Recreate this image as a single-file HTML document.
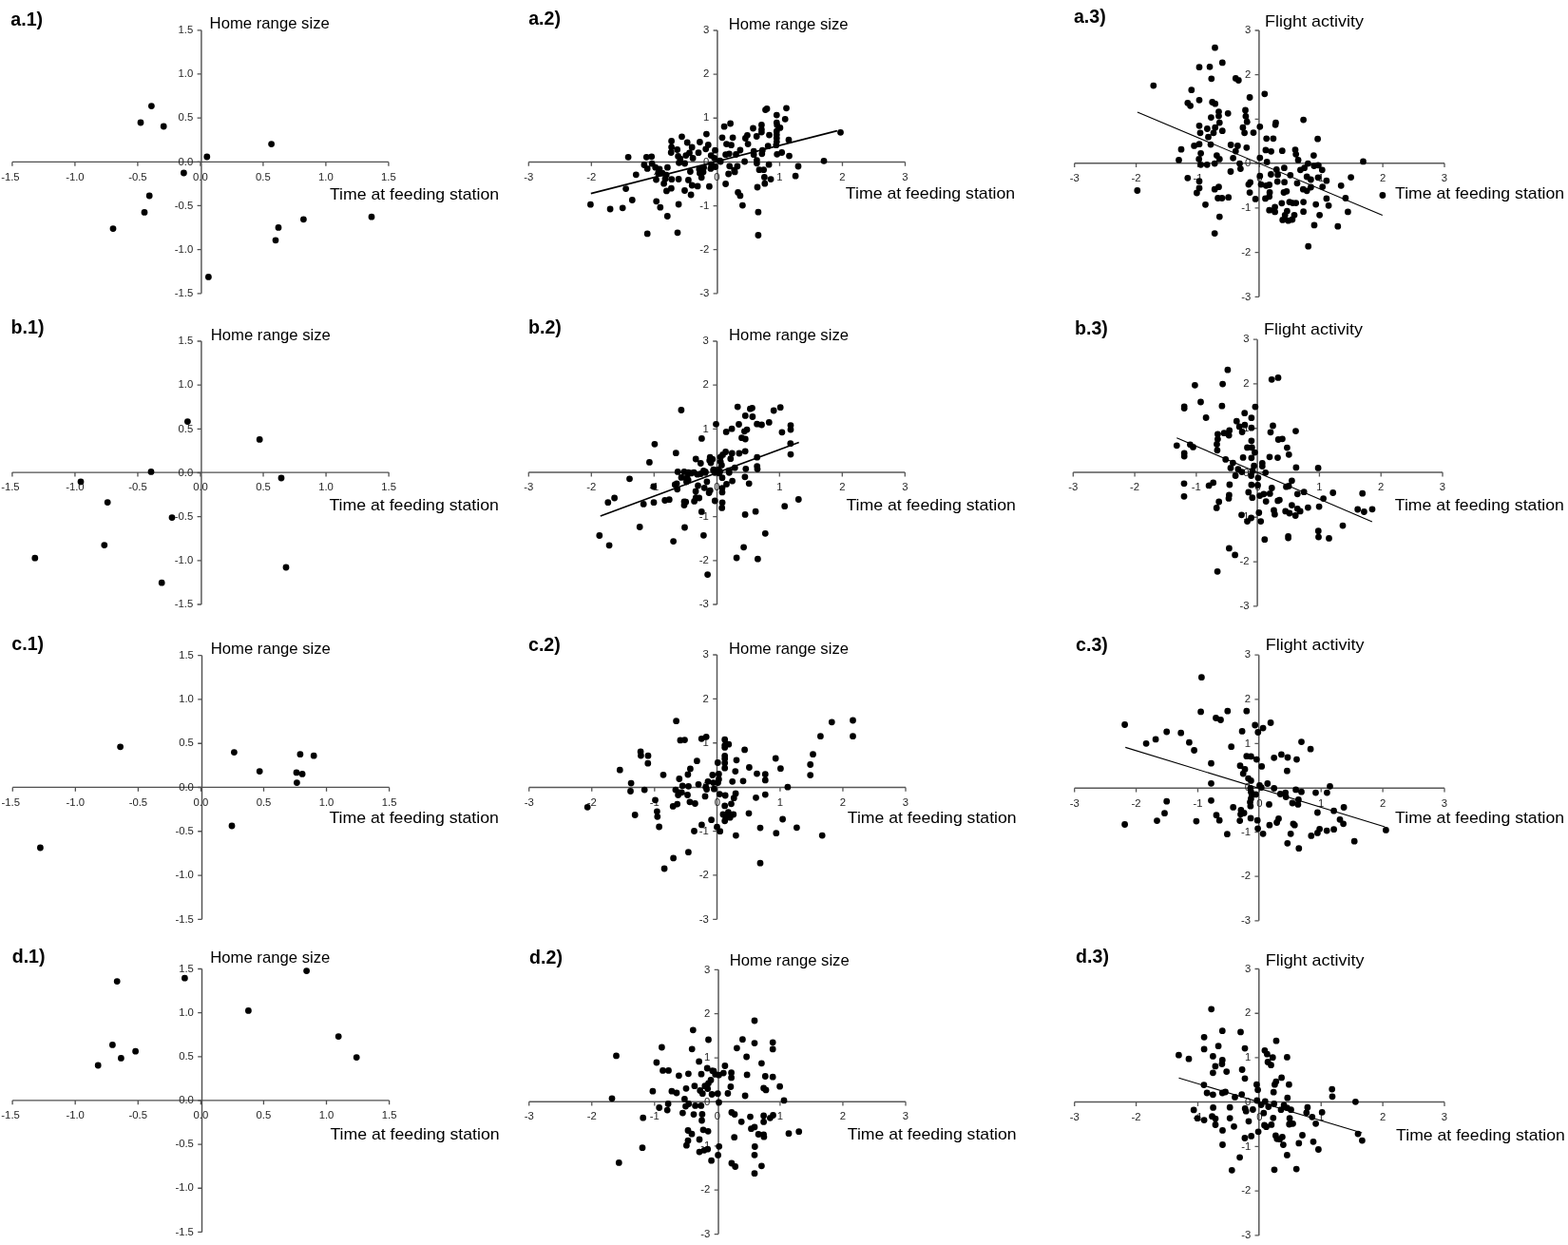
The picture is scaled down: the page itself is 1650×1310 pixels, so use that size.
<!DOCTYPE html>
<html><head><meta charset="utf-8"><title>Figure</title>
<style>
html,body{margin:0;padding:0;background:#fff;}
svg{display:block;}
.tk{font-family:"Liberation Sans",Arial,sans-serif;font-size:11.3px;fill:#262626;}
.tt{font-family:"Liberation Sans",Arial,sans-serif;font-size:16.4px;fill:#000;}
.lab{font-family:"Liberation Sans",Arial,sans-serif;font-size:19.6px;font-weight:bold;fill:#000;}
</style></head><body>
<svg width="1650" height="1310" viewBox="0 0 1650 1310">
<rect width="1650" height="1310" fill="#fff"/>
<path d="M12.9 170.4H408.9M211.9 31.8V308.8" stroke="#505050" stroke-width="1.4" fill="none"/>
<path d="M12.9 170.4v4.3M211.9 308.8h-4.3M78.9 170.4v4.3M211.9 262.63h-4.3M144.9 170.4v4.3M211.9 216.47h-4.3M210.9 170.4v4.3M211.9 170.3h-4.3M276.9 170.4v4.3M211.9 124.13h-4.3M342.9 170.4v4.3M211.9 77.97h-4.3M408.9 170.4v4.3M211.9 31.8h-4.3" stroke="#505050" stroke-width="1.3" fill="none"/>
<text class="tk" x="10.9" y="189.6" text-anchor="middle">-1.5</text>
<text class="tk" x="203.3" y="312" text-anchor="end">-1.5</text>
<text class="tk" x="78.9" y="189.6" text-anchor="middle">-1.0</text>
<text class="tk" x="203.3" y="265.83" text-anchor="end">-1.0</text>
<text class="tk" x="144.9" y="189.6" text-anchor="middle">-0.5</text>
<text class="tk" x="203.3" y="219.67" text-anchor="end">-0.5</text>
<text class="tk" x="210.9" y="189.6" text-anchor="middle">0.0</text>
<text class="tk" x="203.3" y="173.5" text-anchor="end">0.0</text>
<text class="tk" x="276.9" y="189.6" text-anchor="middle">0.5</text>
<text class="tk" x="203.3" y="127.33" text-anchor="end">0.5</text>
<text class="tk" x="342.9" y="189.6" text-anchor="middle">1.0</text>
<text class="tk" x="203.3" y="81.17" text-anchor="end">1.0</text>
<text class="tk" x="408.9" y="189.6" text-anchor="middle">1.5</text>
<text class="tk" x="203.3" y="35" text-anchor="end">1.5</text>
<path d="M156 111.6a3.4 3.4 0 1 0 6.8 0a3.4 3.4 0 1 0 -6.8 0M144.6 129a3.4 3.4 0 1 0 6.8 0a3.4 3.4 0 1 0 -6.8 0M168.8 133a3.4 3.4 0 1 0 6.8 0a3.4 3.4 0 1 0 -6.8 0M282.2 151.6a3.4 3.4 0 1 0 6.8 0a3.4 3.4 0 1 0 -6.8 0M214.4 165a3.4 3.4 0 1 0 6.8 0a3.4 3.4 0 1 0 -6.8 0M190 182a3.4 3.4 0 1 0 6.8 0a3.4 3.4 0 1 0 -6.8 0M153.8 206a3.4 3.4 0 1 0 6.8 0a3.4 3.4 0 1 0 -6.8 0M148.6 223.4a3.4 3.4 0 1 0 6.8 0a3.4 3.4 0 1 0 -6.8 0M115.6 240.6a3.4 3.4 0 1 0 6.8 0a3.4 3.4 0 1 0 -6.8 0M316 230.8a3.4 3.4 0 1 0 6.8 0a3.4 3.4 0 1 0 -6.8 0M387.6 228.2a3.4 3.4 0 1 0 6.8 0a3.4 3.4 0 1 0 -6.8 0M289.6 239.4a3.4 3.4 0 1 0 6.8 0a3.4 3.4 0 1 0 -6.8 0M286.6 252.8a3.4 3.4 0 1 0 6.8 0a3.4 3.4 0 1 0 -6.8 0M216 291.4a3.4 3.4 0 1 0 6.8 0a3.4 3.4 0 1 0 -6.8 0" fill="#000"/>
<text class="lab" x="11.3" y="26.5">a.1)</text>
<text class="tt" x="220.6" y="29.8" textLength="126.2" lengthAdjust="spacingAndGlyphs">Home range size</text>
<text class="tt" x="346.9" y="209.8" textLength="178.2" lengthAdjust="spacingAndGlyphs">Time at feeding station</text>
<path d="M556.3 170.4H952.5M754.9 32V308.8" stroke="#585858" stroke-width="1.5" fill="none"/>
<path d="M556.3 170.4v4.3M754.9 308.8h-4.3M622.33 170.4v4.3M754.9 262.67h-4.3M688.37 170.4v4.3M754.9 216.53h-4.3M754.4 170.4v4.3M754.9 170.4h-4.3M820.43 170.4v4.3M754.9 124.27h-4.3M886.47 170.4v4.3M754.9 78.13h-4.3M952.5 170.4v4.3M754.9 32h-4.3" stroke="#585858" stroke-width="1.3" fill="none"/>
<text class="tk" x="556.3" y="189.6" text-anchor="middle">-3</text>
<text class="tk" x="746.3" y="312" text-anchor="end">-3</text>
<text class="tk" x="622.33" y="189.6" text-anchor="middle">-2</text>
<text class="tk" x="746.3" y="265.87" text-anchor="end">-2</text>
<text class="tk" x="688.37" y="189.6" text-anchor="middle">-1</text>
<text class="tk" x="746.3" y="219.73" text-anchor="end">-1</text>
<text class="tk" x="754.4" y="189.6" text-anchor="middle">0</text>
<text class="tk" x="746.3" y="173.6" text-anchor="end">0</text>
<text class="tk" x="820.43" y="189.6" text-anchor="middle">1</text>
<text class="tk" x="746.3" y="127.47" text-anchor="end">1</text>
<text class="tk" x="886.47" y="189.6" text-anchor="middle">2</text>
<text class="tk" x="746.3" y="81.33" text-anchor="end">2</text>
<text class="tk" x="952.5" y="189.6" text-anchor="middle">3</text>
<text class="tk" x="746.3" y="35.2" text-anchor="end">3</text>
<path d="M621.8 203.6L880.9 137.6" stroke="#000" stroke-width="1.6" fill="none"/>
<path d="M657.7 165.3a3.4 3.4 0 1 0 6.8 0a3.4 3.4 0 1 0 -6.8 0M676.9 165.3a3.4 3.4 0 1 0 6.8 0a3.4 3.4 0 1 0 -6.8 0M682.3 164.8a3.4 3.4 0 1 0 6.8 0a3.4 3.4 0 1 0 -6.8 0M703.2 148.5a3.4 3.4 0 1 0 6.8 0a3.4 3.4 0 1 0 -6.8 0M714.1 143.8a3.4 3.4 0 1 0 6.8 0a3.4 3.4 0 1 0 -6.8 0M740 141.1a3.4 3.4 0 1 0 6.8 0a3.4 3.4 0 1 0 -6.8 0M733 149.5a3.4 3.4 0 1 0 6.8 0a3.4 3.4 0 1 0 -6.8 0M719.8 150a3.4 3.4 0 1 0 6.8 0a3.4 3.4 0 1 0 -6.8 0M724.8 155a3.4 3.4 0 1 0 6.8 0a3.4 3.4 0 1 0 -6.8 0M703.2 154.8a3.4 3.4 0 1 0 6.8 0a3.4 3.4 0 1 0 -6.8 0M709.3 157.5a3.4 3.4 0 1 0 6.8 0a3.4 3.4 0 1 0 -6.8 0M702.8 160.5a3.4 3.4 0 1 0 6.8 0a3.4 3.4 0 1 0 -6.8 0M741.9 152.5a3.4 3.4 0 1 0 6.8 0a3.4 3.4 0 1 0 -6.8 0M739.3 156.8a3.4 3.4 0 1 0 6.8 0a3.4 3.4 0 1 0 -6.8 0M749.1 158.2a3.4 3.4 0 1 0 6.8 0a3.4 3.4 0 1 0 -6.8 0M731.6 160.7a3.4 3.4 0 1 0 6.8 0a3.4 3.4 0 1 0 -6.8 0M722.1 160.9a3.4 3.4 0 1 0 6.8 0a3.4 3.4 0 1 0 -6.8 0M718.4 163.6a3.4 3.4 0 1 0 6.8 0a3.4 3.4 0 1 0 -6.8 0M725.7 166.4a3.4 3.4 0 1 0 6.8 0a3.4 3.4 0 1 0 -6.8 0M710.2 164.5a3.4 3.4 0 1 0 6.8 0a3.4 3.4 0 1 0 -6.8 0M744.8 163.6a3.4 3.4 0 1 0 6.8 0a3.4 3.4 0 1 0 -6.8 0M748.4 166.4a3.4 3.4 0 1 0 6.8 0a3.4 3.4 0 1 0 -6.8 0M674.5 173.5a3.4 3.4 0 1 0 6.8 0a3.4 3.4 0 1 0 -6.8 0M677.8 177.4a3.4 3.4 0 1 0 6.8 0a3.4 3.4 0 1 0 -6.8 0M682.7 172.2a3.4 3.4 0 1 0 6.8 0a3.4 3.4 0 1 0 -6.8 0M686.3 176.2a3.4 3.4 0 1 0 6.8 0a3.4 3.4 0 1 0 -6.8 0M690.6 178a3.4 3.4 0 1 0 6.8 0a3.4 3.4 0 1 0 -6.8 0M689.3 182.2a3.4 3.4 0 1 0 6.8 0a3.4 3.4 0 1 0 -6.8 0M693.6 182.2a3.4 3.4 0 1 0 6.8 0a3.4 3.4 0 1 0 -6.8 0M699 176.2a3.4 3.4 0 1 0 6.8 0a3.4 3.4 0 1 0 -6.8 0M697.8 184.1a3.4 3.4 0 1 0 6.8 0a3.4 3.4 0 1 0 -6.8 0M696.6 188.3a3.4 3.4 0 1 0 6.8 0a3.4 3.4 0 1 0 -6.8 0M733 182.2a3.4 3.4 0 1 0 6.8 0a3.4 3.4 0 1 0 -6.8 0M736.6 181a3.4 3.4 0 1 0 6.8 0a3.4 3.4 0 1 0 -6.8 0M732.4 178a3.4 3.4 0 1 0 6.8 0a3.4 3.4 0 1 0 -6.8 0M737.2 176.2a3.4 3.4 0 1 0 6.8 0a3.4 3.4 0 1 0 -6.8 0M744.5 177.4a3.4 3.4 0 1 0 6.8 0a3.4 3.4 0 1 0 -6.8 0M749.3 175.6a3.4 3.4 0 1 0 6.8 0a3.4 3.4 0 1 0 -6.8 0M745.1 173.2a3.4 3.4 0 1 0 6.8 0a3.4 3.4 0 1 0 -6.8 0M754.8 170.1a3.4 3.4 0 1 0 6.8 0a3.4 3.4 0 1 0 -6.8 0M711.1 171.3a3.4 3.4 0 1 0 6.8 0a3.4 3.4 0 1 0 -6.8 0M717.2 172a3.4 3.4 0 1 0 6.8 0a3.4 3.4 0 1 0 -6.8 0M712.4 167.1a3.4 3.4 0 1 0 6.8 0a3.4 3.4 0 1 0 -6.8 0M665.9 183.8a3.4 3.4 0 1 0 6.8 0a3.4 3.4 0 1 0 -6.8 0M687.1 189.1a3.4 3.4 0 1 0 6.8 0a3.4 3.4 0 1 0 -6.8 0M695.2 193.2a3.4 3.4 0 1 0 6.8 0a3.4 3.4 0 1 0 -6.8 0M703.4 188.6a3.4 3.4 0 1 0 6.8 0a3.4 3.4 0 1 0 -6.8 0M710.7 188.5a3.4 3.4 0 1 0 6.8 0a3.4 3.4 0 1 0 -6.8 0M721 189.4a3.4 3.4 0 1 0 6.8 0a3.4 3.4 0 1 0 -6.8 0M724.8 195a3.4 3.4 0 1 0 6.8 0a3.4 3.4 0 1 0 -6.8 0M730.7 195.9a3.4 3.4 0 1 0 6.8 0a3.4 3.4 0 1 0 -6.8 0M743 196.1a3.4 3.4 0 1 0 6.8 0a3.4 3.4 0 1 0 -6.8 0M734.8 186.8a3.4 3.4 0 1 0 6.8 0a3.4 3.4 0 1 0 -6.8 0M655.2 198.6a3.4 3.4 0 1 0 6.8 0a3.4 3.4 0 1 0 -6.8 0M698 200.9a3.4 3.4 0 1 0 6.8 0a3.4 3.4 0 1 0 -6.8 0M703 198.2a3.4 3.4 0 1 0 6.8 0a3.4 3.4 0 1 0 -6.8 0M717.1 200.5a3.4 3.4 0 1 0 6.8 0a3.4 3.4 0 1 0 -6.8 0M723.7 205a3.4 3.4 0 1 0 6.8 0a3.4 3.4 0 1 0 -6.8 0M661.9 210.5a3.4 3.4 0 1 0 6.8 0a3.4 3.4 0 1 0 -6.8 0M687.3 211.8a3.4 3.4 0 1 0 6.8 0a3.4 3.4 0 1 0 -6.8 0M710.7 215a3.4 3.4 0 1 0 6.8 0a3.4 3.4 0 1 0 -6.8 0M618 215.2a3.4 3.4 0 1 0 6.8 0a3.4 3.4 0 1 0 -6.8 0M638.7 220a3.4 3.4 0 1 0 6.8 0a3.4 3.4 0 1 0 -6.8 0M651.8 218.8a3.4 3.4 0 1 0 6.8 0a3.4 3.4 0 1 0 -6.8 0M691.4 218.2a3.4 3.4 0 1 0 6.8 0a3.4 3.4 0 1 0 -6.8 0M698.9 227.5a3.4 3.4 0 1 0 6.8 0a3.4 3.4 0 1 0 -6.8 0M677.8 245.9a3.4 3.4 0 1 0 6.8 0a3.4 3.4 0 1 0 -6.8 0M709.6 244.8a3.4 3.4 0 1 0 6.8 0a3.4 3.4 0 1 0 -6.8 0M723 180.5a3.4 3.4 0 1 0 6.8 0a3.4 3.4 0 1 0 -6.8 0M802.1 115.6a3.4 3.4 0 1 0 6.8 0a3.4 3.4 0 1 0 -6.8 0M803.6 114.5a3.4 3.4 0 1 0 6.8 0a3.4 3.4 0 1 0 -6.8 0M824.1 113.8a3.4 3.4 0 1 0 6.8 0a3.4 3.4 0 1 0 -6.8 0M813.9 121.1a3.4 3.4 0 1 0 6.8 0a3.4 3.4 0 1 0 -6.8 0M822.8 125.3a3.4 3.4 0 1 0 6.8 0a3.4 3.4 0 1 0 -6.8 0M758.7 133.2a3.4 3.4 0 1 0 6.8 0a3.4 3.4 0 1 0 -6.8 0M765.2 130a3.4 3.4 0 1 0 6.8 0a3.4 3.4 0 1 0 -6.8 0M789.1 135a3.4 3.4 0 1 0 6.8 0a3.4 3.4 0 1 0 -6.8 0M798 131.4a3.4 3.4 0 1 0 6.8 0a3.4 3.4 0 1 0 -6.8 0M798 136.4a3.4 3.4 0 1 0 6.8 0a3.4 3.4 0 1 0 -6.8 0M798 139.1a3.4 3.4 0 1 0 6.8 0a3.4 3.4 0 1 0 -6.8 0M813.9 129.1a3.4 3.4 0 1 0 6.8 0a3.4 3.4 0 1 0 -6.8 0M814.3 131.4a3.4 3.4 0 1 0 6.8 0a3.4 3.4 0 1 0 -6.8 0M817.5 134.4a3.4 3.4 0 1 0 6.8 0a3.4 3.4 0 1 0 -6.8 0M813.9 138.2a3.4 3.4 0 1 0 6.8 0a3.4 3.4 0 1 0 -6.8 0M813.9 141.8a3.4 3.4 0 1 0 6.8 0a3.4 3.4 0 1 0 -6.8 0M813.9 145.5a3.4 3.4 0 1 0 6.8 0a3.4 3.4 0 1 0 -6.8 0M813.9 149.1a3.4 3.4 0 1 0 6.8 0a3.4 3.4 0 1 0 -6.8 0M813.4 152.7a3.4 3.4 0 1 0 6.8 0a3.4 3.4 0 1 0 -6.8 0M756.6 144.8a3.4 3.4 0 1 0 6.8 0a3.4 3.4 0 1 0 -6.8 0M767.7 144.8a3.4 3.4 0 1 0 6.8 0a3.4 3.4 0 1 0 -6.8 0M783 142.3a3.4 3.4 0 1 0 6.8 0a3.4 3.4 0 1 0 -6.8 0M781 145.5a3.4 3.4 0 1 0 6.8 0a3.4 3.4 0 1 0 -6.8 0M792.8 143.5a3.4 3.4 0 1 0 6.8 0a3.4 3.4 0 1 0 -6.8 0M806.1 142.1a3.4 3.4 0 1 0 6.8 0a3.4 3.4 0 1 0 -6.8 0M826.6 147.1a3.4 3.4 0 1 0 6.8 0a3.4 3.4 0 1 0 -6.8 0M881.1 139.3a3.4 3.4 0 1 0 6.8 0a3.4 3.4 0 1 0 -6.8 0M761.1 151.6a3.4 3.4 0 1 0 6.8 0a3.4 3.4 0 1 0 -6.8 0M766.1 152.7a3.4 3.4 0 1 0 6.8 0a3.4 3.4 0 1 0 -6.8 0M783.7 151.6a3.4 3.4 0 1 0 6.8 0a3.4 3.4 0 1 0 -6.8 0M804.8 153.6a3.4 3.4 0 1 0 6.8 0a3.4 3.4 0 1 0 -6.8 0M775.5 158a3.4 3.4 0 1 0 6.8 0a3.4 3.4 0 1 0 -6.8 0M789.8 159.1a3.4 3.4 0 1 0 6.8 0a3.4 3.4 0 1 0 -6.8 0M789.8 162.7a3.4 3.4 0 1 0 6.8 0a3.4 3.4 0 1 0 -6.8 0M798.9 158.2a3.4 3.4 0 1 0 6.8 0a3.4 3.4 0 1 0 -6.8 0M798.4 161.8a3.4 3.4 0 1 0 6.8 0a3.4 3.4 0 1 0 -6.8 0M760.2 162.7a3.4 3.4 0 1 0 6.8 0a3.4 3.4 0 1 0 -6.8 0M763.9 161.8a3.4 3.4 0 1 0 6.8 0a3.4 3.4 0 1 0 -6.8 0M771.1 162.5a3.4 3.4 0 1 0 6.8 0a3.4 3.4 0 1 0 -6.8 0M754.3 169.1a3.4 3.4 0 1 0 6.8 0a3.4 3.4 0 1 0 -6.8 0M814.3 162.3a3.4 3.4 0 1 0 6.8 0a3.4 3.4 0 1 0 -6.8 0M819.3 160.5a3.4 3.4 0 1 0 6.8 0a3.4 3.4 0 1 0 -6.8 0M827.1 164.1a3.4 3.4 0 1 0 6.8 0a3.4 3.4 0 1 0 -6.8 0M780.2 170a3.4 3.4 0 1 0 6.8 0a3.4 3.4 0 1 0 -6.8 0M793 168.6a3.4 3.4 0 1 0 6.8 0a3.4 3.4 0 1 0 -6.8 0M793 171.8a3.4 3.4 0 1 0 6.8 0a3.4 3.4 0 1 0 -6.8 0M863.6 169.3a3.4 3.4 0 1 0 6.8 0a3.4 3.4 0 1 0 -6.8 0M805.7 173.2a3.4 3.4 0 1 0 6.8 0a3.4 3.4 0 1 0 -6.8 0M836.6 175a3.4 3.4 0 1 0 6.8 0a3.4 3.4 0 1 0 -6.8 0M764.3 174.8a3.4 3.4 0 1 0 6.8 0a3.4 3.4 0 1 0 -6.8 0M772.5 175a3.4 3.4 0 1 0 6.8 0a3.4 3.4 0 1 0 -6.8 0M749.3 175.5a3.4 3.4 0 1 0 6.8 0a3.4 3.4 0 1 0 -6.8 0M795.6 178.6a3.4 3.4 0 1 0 6.8 0a3.4 3.4 0 1 0 -6.8 0M800.2 178.6a3.4 3.4 0 1 0 6.8 0a3.4 3.4 0 1 0 -6.8 0M769.3 179a3.4 3.4 0 1 0 6.8 0a3.4 3.4 0 1 0 -6.8 0M763.2 183a3.4 3.4 0 1 0 6.8 0a3.4 3.4 0 1 0 -6.8 0M769.8 180.9a3.4 3.4 0 1 0 6.8 0a3.4 3.4 0 1 0 -6.8 0M801 186.4a3.4 3.4 0 1 0 6.8 0a3.4 3.4 0 1 0 -6.8 0M807.7 188.6a3.4 3.4 0 1 0 6.8 0a3.4 3.4 0 1 0 -6.8 0M801.4 193.2a3.4 3.4 0 1 0 6.8 0a3.4 3.4 0 1 0 -6.8 0M793.6 197a3.4 3.4 0 1 0 6.8 0a3.4 3.4 0 1 0 -6.8 0M833.7 185.2a3.4 3.4 0 1 0 6.8 0a3.4 3.4 0 1 0 -6.8 0M760.2 193.5a3.4 3.4 0 1 0 6.8 0a3.4 3.4 0 1 0 -6.8 0M773.2 202.5a3.4 3.4 0 1 0 6.8 0a3.4 3.4 0 1 0 -6.8 0M775.5 205.9a3.4 3.4 0 1 0 6.8 0a3.4 3.4 0 1 0 -6.8 0M778 216.1a3.4 3.4 0 1 0 6.8 0a3.4 3.4 0 1 0 -6.8 0M794.5 223.2a3.4 3.4 0 1 0 6.8 0a3.4 3.4 0 1 0 -6.8 0M794.5 247.5a3.4 3.4 0 1 0 6.8 0a3.4 3.4 0 1 0 -6.8 0" fill="#000"/>
<text class="lab" x="556.2" y="26.2">a.2)</text>
<text class="tt" x="766.7" y="30.5" textLength="125.9" lengthAdjust="spacingAndGlyphs">Home range size</text>
<text class="tt" x="889.8" y="208.7" textLength="178.4" lengthAdjust="spacingAndGlyphs">Time at feeding station</text>
<path d="M1130.7 171.7H1520M1324.9 32V312.3" stroke="#585858" stroke-width="1.5" fill="none"/>
<path d="M1130.7 171.7v4.3M1324.9 312.3h-4.3M1195.58 171.7v4.3M1324.9 265.58h-4.3M1260.47 171.7v4.3M1324.9 218.87h-4.3M1325.35 171.7v4.3M1324.9 172.15h-4.3M1390.23 171.7v4.3M1324.9 125.43h-4.3M1455.12 171.7v4.3M1324.9 78.72h-4.3M1520 171.7v4.3M1324.9 32h-4.3" stroke="#585858" stroke-width="1.3" fill="none"/>
<text class="tk" x="1130.7" y="190.9" text-anchor="middle">-3</text>
<text class="tk" x="1316.3" y="315.5" text-anchor="end">-3</text>
<text class="tk" x="1195.58" y="190.9" text-anchor="middle">-2</text>
<text class="tk" x="1316.3" y="268.78" text-anchor="end">-2</text>
<text class="tk" x="1260.47" y="190.9" text-anchor="middle">-1</text>
<text class="tk" x="1316.3" y="222.07" text-anchor="end">-1</text>
<text class="tk" x="1325.35" y="190.9" text-anchor="middle">0</text>
<text class="tk" x="1316.3" y="175.35" text-anchor="end">0</text>
<text class="tk" x="1390.23" y="190.9" text-anchor="middle">1</text>
<text class="tk" x="1316.3" y="128.63" text-anchor="end">1</text>
<text class="tk" x="1455.12" y="190.9" text-anchor="middle">2</text>
<text class="tk" x="1316.3" y="81.92" text-anchor="end">2</text>
<text class="tk" x="1520" y="190.9" text-anchor="middle">3</text>
<text class="tk" x="1316.3" y="35.2" text-anchor="end">3</text>
<path d="M1196.9 118L1454.8 226.5" stroke="#000" stroke-width="1.1" fill="none"/>
<path d="M1275.1 50.2a3.4 3.4 0 1 0 6.8 0a3.4 3.4 0 1 0 -6.8 0M1282.9 65.9a3.4 3.4 0 1 0 6.8 0a3.4 3.4 0 1 0 -6.8 0M1258.6 70.7a3.4 3.4 0 1 0 6.8 0a3.4 3.4 0 1 0 -6.8 0M1269.6 70.3a3.4 3.4 0 1 0 6.8 0a3.4 3.4 0 1 0 -6.8 0M1271.4 82.8a3.4 3.4 0 1 0 6.8 0a3.4 3.4 0 1 0 -6.8 0M1296.9 82.4a3.4 3.4 0 1 0 6.8 0a3.4 3.4 0 1 0 -6.8 0M1299.9 84.5a3.4 3.4 0 1 0 6.8 0a3.4 3.4 0 1 0 -6.8 0M1210.4 90.1a3.4 3.4 0 1 0 6.8 0a3.4 3.4 0 1 0 -6.8 0M1250.4 94.7a3.4 3.4 0 1 0 6.8 0a3.4 3.4 0 1 0 -6.8 0M1311.7 102.5a3.4 3.4 0 1 0 6.8 0a3.4 3.4 0 1 0 -6.8 0M1258.6 105.3a3.4 3.4 0 1 0 6.8 0a3.4 3.4 0 1 0 -6.8 0M1246.4 108.3a3.4 3.4 0 1 0 6.8 0a3.4 3.4 0 1 0 -6.8 0M1249.2 111.3a3.4 3.4 0 1 0 6.8 0a3.4 3.4 0 1 0 -6.8 0M1272.3 107.5a3.4 3.4 0 1 0 6.8 0a3.4 3.4 0 1 0 -6.8 0M1275.3 109.2a3.4 3.4 0 1 0 6.8 0a3.4 3.4 0 1 0 -6.8 0M1279.1 117.6a3.4 3.4 0 1 0 6.8 0a3.4 3.4 0 1 0 -6.8 0M1288.8 119.3a3.4 3.4 0 1 0 6.8 0a3.4 3.4 0 1 0 -6.8 0M1307.1 115.9a3.4 3.4 0 1 0 6.8 0a3.4 3.4 0 1 0 -6.8 0M1271 123.6a3.4 3.4 0 1 0 6.8 0a3.4 3.4 0 1 0 -6.8 0M1279.1 122.1a3.4 3.4 0 1 0 6.8 0a3.4 3.4 0 1 0 -6.8 0M1307.5 122.3a3.4 3.4 0 1 0 6.8 0a3.4 3.4 0 1 0 -6.8 0M1308.8 128.2a3.4 3.4 0 1 0 6.8 0a3.4 3.4 0 1 0 -6.8 0M1279.9 129.1a3.4 3.4 0 1 0 6.8 0a3.4 3.4 0 1 0 -6.8 0M1258.6 132.3a3.4 3.4 0 1 0 6.8 0a3.4 3.4 0 1 0 -6.8 0M1267 135.5a3.4 3.4 0 1 0 6.8 0a3.4 3.4 0 1 0 -6.8 0M1275.3 134.2a3.4 3.4 0 1 0 6.8 0a3.4 3.4 0 1 0 -6.8 0M1304.5 134.2a3.4 3.4 0 1 0 6.8 0a3.4 3.4 0 1 0 -6.8 0M1322.4 133.3a3.4 3.4 0 1 0 6.8 0a3.4 3.4 0 1 0 -6.8 0M1259.6 139.8a3.4 3.4 0 1 0 6.8 0a3.4 3.4 0 1 0 -6.8 0M1273.6 139.8a3.4 3.4 0 1 0 6.8 0a3.4 3.4 0 1 0 -6.8 0M1282.9 137.7a3.4 3.4 0 1 0 6.8 0a3.4 3.4 0 1 0 -6.8 0M1306.2 139.8a3.4 3.4 0 1 0 6.8 0a3.4 3.4 0 1 0 -6.8 0M1315.6 139.6a3.4 3.4 0 1 0 6.8 0a3.4 3.4 0 1 0 -6.8 0M1268.1 144.2a3.4 3.4 0 1 0 6.8 0a3.4 3.4 0 1 0 -6.8 0M1258.6 151.7a3.4 3.4 0 1 0 6.8 0a3.4 3.4 0 1 0 -6.8 0M1253.2 153.4a3.4 3.4 0 1 0 6.8 0a3.4 3.4 0 1 0 -6.8 0M1270.6 152.1a3.4 3.4 0 1 0 6.8 0a3.4 3.4 0 1 0 -6.8 0M1239.6 157.2a3.4 3.4 0 1 0 6.8 0a3.4 3.4 0 1 0 -6.8 0M1291.8 152.5a3.4 3.4 0 1 0 6.8 0a3.4 3.4 0 1 0 -6.8 0M1299 153.4a3.4 3.4 0 1 0 6.8 0a3.4 3.4 0 1 0 -6.8 0M1308.4 155.3a3.4 3.4 0 1 0 6.8 0a3.4 3.4 0 1 0 -6.8 0M1296.9 159.1a3.4 3.4 0 1 0 6.8 0a3.4 3.4 0 1 0 -6.8 0M1260.2 161.3a3.4 3.4 0 1 0 6.8 0a3.4 3.4 0 1 0 -6.8 0M1277 163.6a3.4 3.4 0 1 0 6.8 0a3.4 3.4 0 1 0 -6.8 0M1279.9 167.4a3.4 3.4 0 1 0 6.8 0a3.4 3.4 0 1 0 -6.8 0M1258.3 167.4a3.4 3.4 0 1 0 6.8 0a3.4 3.4 0 1 0 -6.8 0M1237.1 168.4a3.4 3.4 0 1 0 6.8 0a3.4 3.4 0 1 0 -6.8 0M1294.2 166.3a3.4 3.4 0 1 0 6.8 0a3.4 3.4 0 1 0 -6.8 0M1322.4 166.1a3.4 3.4 0 1 0 6.8 0a3.4 3.4 0 1 0 -6.8 0M1260.2 173.3a3.4 3.4 0 1 0 6.8 0a3.4 3.4 0 1 0 -6.8 0M1266.8 173.3a3.4 3.4 0 1 0 6.8 0a3.4 3.4 0 1 0 -6.8 0M1274.8 172.1a3.4 3.4 0 1 0 6.8 0a3.4 3.4 0 1 0 -6.8 0M1301.1 172.1a3.4 3.4 0 1 0 6.8 0a3.4 3.4 0 1 0 -6.8 0M1302 177.6a3.4 3.4 0 1 0 6.8 0a3.4 3.4 0 1 0 -6.8 0M1291.6 180.5a3.4 3.4 0 1 0 6.8 0a3.4 3.4 0 1 0 -6.8 0M1322.4 185.2a3.4 3.4 0 1 0 6.8 0a3.4 3.4 0 1 0 -6.8 0M1246.4 187.3a3.4 3.4 0 1 0 6.8 0a3.4 3.4 0 1 0 -6.8 0M1258.6 190.7a3.4 3.4 0 1 0 6.8 0a3.4 3.4 0 1 0 -6.8 0M1312.2 192a3.4 3.4 0 1 0 6.8 0a3.4 3.4 0 1 0 -6.8 0M1310.5 194.1a3.4 3.4 0 1 0 6.8 0a3.4 3.4 0 1 0 -6.8 0M1323.6 194.1a3.4 3.4 0 1 0 6.8 0a3.4 3.4 0 1 0 -6.8 0M1258.6 197.9a3.4 3.4 0 1 0 6.8 0a3.4 3.4 0 1 0 -6.8 0M1256 203a3.4 3.4 0 1 0 6.8 0a3.4 3.4 0 1 0 -6.8 0M1279.1 196.7a3.4 3.4 0 1 0 6.8 0a3.4 3.4 0 1 0 -6.8 0M1274.8 199.2a3.4 3.4 0 1 0 6.8 0a3.4 3.4 0 1 0 -6.8 0M1311.7 202.6a3.4 3.4 0 1 0 6.8 0a3.4 3.4 0 1 0 -6.8 0M1278.2 208.5a3.4 3.4 0 1 0 6.8 0a3.4 3.4 0 1 0 -6.8 0M1282.5 208.5a3.4 3.4 0 1 0 6.8 0a3.4 3.4 0 1 0 -6.8 0M1289.3 207.7a3.4 3.4 0 1 0 6.8 0a3.4 3.4 0 1 0 -6.8 0M1317.7 209.4a3.4 3.4 0 1 0 6.8 0a3.4 3.4 0 1 0 -6.8 0M1265.1 215.3a3.4 3.4 0 1 0 6.8 0a3.4 3.4 0 1 0 -6.8 0M1279.9 228.1a3.4 3.4 0 1 0 6.8 0a3.4 3.4 0 1 0 -6.8 0M1193.4 200.5a3.4 3.4 0 1 0 6.8 0a3.4 3.4 0 1 0 -6.8 0M1274.8 245.6a3.4 3.4 0 1 0 6.8 0a3.4 3.4 0 1 0 -6.8 0M1327.4 98.8a3.4 3.4 0 1 0 6.8 0a3.4 3.4 0 1 0 -6.8 0M1368.2 126.1a3.4 3.4 0 1 0 6.8 0a3.4 3.4 0 1 0 -6.8 0M1339.1 129.2a3.4 3.4 0 1 0 6.8 0a3.4 3.4 0 1 0 -6.8 0M1338.7 131.3a3.4 3.4 0 1 0 6.8 0a3.4 3.4 0 1 0 -6.8 0M1329.3 145.8a3.4 3.4 0 1 0 6.8 0a3.4 3.4 0 1 0 -6.8 0M1336.5 145.8a3.4 3.4 0 1 0 6.8 0a3.4 3.4 0 1 0 -6.8 0M1383.2 146.2a3.4 3.4 0 1 0 6.8 0a3.4 3.4 0 1 0 -6.8 0M1328.5 157.9a3.4 3.4 0 1 0 6.8 0a3.4 3.4 0 1 0 -6.8 0M1334.2 159.3a3.4 3.4 0 1 0 6.8 0a3.4 3.4 0 1 0 -6.8 0M1345.9 158.7a3.4 3.4 0 1 0 6.8 0a3.4 3.4 0 1 0 -6.8 0M1359.6 157.6a3.4 3.4 0 1 0 6.8 0a3.4 3.4 0 1 0 -6.8 0M1360.3 162.3a3.4 3.4 0 1 0 6.8 0a3.4 3.4 0 1 0 -6.8 0M1379 163.6a3.4 3.4 0 1 0 6.8 0a3.4 3.4 0 1 0 -6.8 0M1329.8 170.4a3.4 3.4 0 1 0 6.8 0a3.4 3.4 0 1 0 -6.8 0M1362.7 168.4a3.4 3.4 0 1 0 6.8 0a3.4 3.4 0 1 0 -6.8 0M1431.1 169.9a3.4 3.4 0 1 0 6.8 0a3.4 3.4 0 1 0 -6.8 0M1373 172.1a3.4 3.4 0 1 0 6.8 0a3.4 3.4 0 1 0 -6.8 0M1379.4 174.6a3.4 3.4 0 1 0 6.8 0a3.4 3.4 0 1 0 -6.8 0M1383.6 173.8a3.4 3.4 0 1 0 6.8 0a3.4 3.4 0 1 0 -6.8 0M1369.2 176.7a3.4 3.4 0 1 0 6.8 0a3.4 3.4 0 1 0 -6.8 0M1365 178.8a3.4 3.4 0 1 0 6.8 0a3.4 3.4 0 1 0 -6.8 0M1339.9 178.4a3.4 3.4 0 1 0 6.8 0a3.4 3.4 0 1 0 -6.8 0M1348 176.7a3.4 3.4 0 1 0 6.8 0a3.4 3.4 0 1 0 -6.8 0M1387.9 178.8a3.4 3.4 0 1 0 6.8 0a3.4 3.4 0 1 0 -6.8 0M1334 183.5a3.4 3.4 0 1 0 6.8 0a3.4 3.4 0 1 0 -6.8 0M1341.2 183.9a3.4 3.4 0 1 0 6.8 0a3.4 3.4 0 1 0 -6.8 0M1354.4 184.3a3.4 3.4 0 1 0 6.8 0a3.4 3.4 0 1 0 -6.8 0M1371.8 186a3.4 3.4 0 1 0 6.8 0a3.4 3.4 0 1 0 -6.8 0M1376 189a3.4 3.4 0 1 0 6.8 0a3.4 3.4 0 1 0 -6.8 0M1383.6 186.8a3.4 3.4 0 1 0 6.8 0a3.4 3.4 0 1 0 -6.8 0M1392.5 190.2a3.4 3.4 0 1 0 6.8 0a3.4 3.4 0 1 0 -6.8 0M1418.2 186.6a3.4 3.4 0 1 0 6.8 0a3.4 3.4 0 1 0 -6.8 0M1340.8 191.1a3.4 3.4 0 1 0 6.8 0a3.4 3.4 0 1 0 -6.8 0M1348.2 191.7a3.4 3.4 0 1 0 6.8 0a3.4 3.4 0 1 0 -6.8 0M1361.6 192.8a3.4 3.4 0 1 0 6.8 0a3.4 3.4 0 1 0 -6.8 0M1328.9 195.3a3.4 3.4 0 1 0 6.8 0a3.4 3.4 0 1 0 -6.8 0M1332.3 194.5a3.4 3.4 0 1 0 6.8 0a3.4 3.4 0 1 0 -6.8 0M1407.8 195.3a3.4 3.4 0 1 0 6.8 0a3.4 3.4 0 1 0 -6.8 0M1388.3 196.6a3.4 3.4 0 1 0 6.8 0a3.4 3.4 0 1 0 -6.8 0M1376 197a3.4 3.4 0 1 0 6.8 0a3.4 3.4 0 1 0 -6.8 0M1367.9 199.2a3.4 3.4 0 1 0 6.8 0a3.4 3.4 0 1 0 -6.8 0M1371.8 200.8a3.4 3.4 0 1 0 6.8 0a3.4 3.4 0 1 0 -6.8 0M1347.6 202.5a3.4 3.4 0 1 0 6.8 0a3.4 3.4 0 1 0 -6.8 0M1350.5 201.3a3.4 3.4 0 1 0 6.8 0a3.4 3.4 0 1 0 -6.8 0M1332.7 202.5a3.4 3.4 0 1 0 6.8 0a3.4 3.4 0 1 0 -6.8 0M1451.5 205.5a3.4 3.4 0 1 0 6.8 0a3.4 3.4 0 1 0 -6.8 0M1332.3 206.8a3.4 3.4 0 1 0 6.8 0a3.4 3.4 0 1 0 -6.8 0M1328.1 208.9a3.4 3.4 0 1 0 6.8 0a3.4 3.4 0 1 0 -6.8 0M1412.5 208.5a3.4 3.4 0 1 0 6.8 0a3.4 3.4 0 1 0 -6.8 0M1392.5 208.9a3.4 3.4 0 1 0 6.8 0a3.4 3.4 0 1 0 -6.8 0M1345.4 213.8a3.4 3.4 0 1 0 6.8 0a3.4 3.4 0 1 0 -6.8 0M1353.5 212.6a3.4 3.4 0 1 0 6.8 0a3.4 3.4 0 1 0 -6.8 0M1356.9 213.6a3.4 3.4 0 1 0 6.8 0a3.4 3.4 0 1 0 -6.8 0M1360.3 213.6a3.4 3.4 0 1 0 6.8 0a3.4 3.4 0 1 0 -6.8 0M1368.2 212.6a3.4 3.4 0 1 0 6.8 0a3.4 3.4 0 1 0 -6.8 0M1381.3 215.1a3.4 3.4 0 1 0 6.8 0a3.4 3.4 0 1 0 -6.8 0M1394.7 216.3a3.4 3.4 0 1 0 6.8 0a3.4 3.4 0 1 0 -6.8 0M1332.3 221.2a3.4 3.4 0 1 0 6.8 0a3.4 3.4 0 1 0 -6.8 0M1338.2 217.8a3.4 3.4 0 1 0 6.8 0a3.4 3.4 0 1 0 -6.8 0M1338.2 222.9a3.4 3.4 0 1 0 6.8 0a3.4 3.4 0 1 0 -6.8 0M1351 222.1a3.4 3.4 0 1 0 6.8 0a3.4 3.4 0 1 0 -6.8 0M1368.2 222.7a3.4 3.4 0 1 0 6.8 0a3.4 3.4 0 1 0 -6.8 0M1415 222.9a3.4 3.4 0 1 0 6.8 0a3.4 3.4 0 1 0 -6.8 0M1385.2 226.3a3.4 3.4 0 1 0 6.8 0a3.4 3.4 0 1 0 -6.8 0M1358.6 226.3a3.4 3.4 0 1 0 6.8 0a3.4 3.4 0 1 0 -6.8 0M1348.8 226.3a3.4 3.4 0 1 0 6.8 0a3.4 3.4 0 1 0 -6.8 0M1346.3 231.4a3.4 3.4 0 1 0 6.8 0a3.4 3.4 0 1 0 -6.8 0M1352.2 232.2a3.4 3.4 0 1 0 6.8 0a3.4 3.4 0 1 0 -6.8 0M1356.5 231a3.4 3.4 0 1 0 6.8 0a3.4 3.4 0 1 0 -6.8 0M1379.6 236.9a3.4 3.4 0 1 0 6.8 0a3.4 3.4 0 1 0 -6.8 0M1404.4 238.2a3.4 3.4 0 1 0 6.8 0a3.4 3.4 0 1 0 -6.8 0M1373.3 259.2a3.4 3.4 0 1 0 6.8 0a3.4 3.4 0 1 0 -6.8 0" fill="#000"/>
<text class="lab" x="1129.9" y="24.4">a.3)</text>
<text class="tt" x="1331.1" y="28.4" textLength="103.8" lengthAdjust="spacingAndGlyphs">Flight activity</text>
<text class="tt" x="1468" y="208.7" textLength="178.2" lengthAdjust="spacingAndGlyphs">Time at feeding station</text>
<path d="M12.9 497.1H409.1M211.9 359V636" stroke="#505050" stroke-width="1.4" fill="none"/>
<path d="M12.9 497.1v4.3M211.9 636h-4.3M78.93 497.1v4.3M211.9 589.83h-4.3M144.97 497.1v4.3M211.9 543.67h-4.3M211 497.1v4.3M211.9 497.5h-4.3M277.03 497.1v4.3M211.9 451.33h-4.3M343.07 497.1v4.3M211.9 405.17h-4.3M409.1 497.1v4.3M211.9 359h-4.3" stroke="#505050" stroke-width="1.3" fill="none"/>
<text class="tk" x="10.9" y="516.3" text-anchor="middle">-1.5</text>
<text class="tk" x="203.3" y="639.2" text-anchor="end">-1.5</text>
<text class="tk" x="78.93" y="516.3" text-anchor="middle">-1.0</text>
<text class="tk" x="203.3" y="593.03" text-anchor="end">-1.0</text>
<text class="tk" x="144.97" y="516.3" text-anchor="middle">-0.5</text>
<text class="tk" x="203.3" y="546.87" text-anchor="end">-0.5</text>
<text class="tk" x="211" y="516.3" text-anchor="middle">0.0</text>
<text class="tk" x="203.3" y="500.7" text-anchor="end">0.0</text>
<text class="tk" x="277.03" y="516.3" text-anchor="middle">0.5</text>
<text class="tk" x="203.3" y="454.53" text-anchor="end">0.5</text>
<text class="tk" x="343.07" y="516.3" text-anchor="middle">1.0</text>
<text class="tk" x="203.3" y="408.37" text-anchor="end">1.0</text>
<text class="tk" x="409.1" y="516.3" text-anchor="middle">1.5</text>
<text class="tk" x="203.3" y="362.2" text-anchor="end">1.5</text>
<path d="M194 443.6a3.4 3.4 0 1 0 6.8 0a3.4 3.4 0 1 0 -6.8 0M269.8 462.4a3.4 3.4 0 1 0 6.8 0a3.4 3.4 0 1 0 -6.8 0M155.6 496.4a3.4 3.4 0 1 0 6.8 0a3.4 3.4 0 1 0 -6.8 0M81.6 507a3.4 3.4 0 1 0 6.8 0a3.4 3.4 0 1 0 -6.8 0M292.6 503a3.4 3.4 0 1 0 6.8 0a3.4 3.4 0 1 0 -6.8 0M109.8 528.6a3.4 3.4 0 1 0 6.8 0a3.4 3.4 0 1 0 -6.8 0M177.6 544.6a3.4 3.4 0 1 0 6.8 0a3.4 3.4 0 1 0 -6.8 0M106.4 573.6a3.4 3.4 0 1 0 6.8 0a3.4 3.4 0 1 0 -6.8 0M33.4 587.2a3.4 3.4 0 1 0 6.8 0a3.4 3.4 0 1 0 -6.8 0M297.6 597a3.4 3.4 0 1 0 6.8 0a3.4 3.4 0 1 0 -6.8 0M166.8 613.2a3.4 3.4 0 1 0 6.8 0a3.4 3.4 0 1 0 -6.8 0" fill="#000"/>
<text class="lab" x="11.6" y="351.2">b.1)</text>
<text class="tt" x="221.7" y="357.7" textLength="126.2" lengthAdjust="spacingAndGlyphs">Home range size</text>
<text class="tt" x="346.4" y="536.7" textLength="178.5" lengthAdjust="spacingAndGlyphs">Time at feeding station</text>
<path d="M556.3 497.1H952.3M754.5 359V636" stroke="#585858" stroke-width="1.5" fill="none"/>
<path d="M556.3 497.1v4.3M754.5 636h-4.3M622.3 497.1v4.3M754.5 589.83h-4.3M688.3 497.1v4.3M754.5 543.67h-4.3M754.3 497.1v4.3M754.5 497.5h-4.3M820.3 497.1v4.3M754.5 451.33h-4.3M886.3 497.1v4.3M754.5 405.17h-4.3M952.3 497.1v4.3M754.5 359h-4.3" stroke="#585858" stroke-width="1.3" fill="none"/>
<text class="tk" x="556.3" y="516.3" text-anchor="middle">-3</text>
<text class="tk" x="745.9" y="639.2" text-anchor="end">-3</text>
<text class="tk" x="622.3" y="516.3" text-anchor="middle">-2</text>
<text class="tk" x="745.9" y="593.03" text-anchor="end">-2</text>
<text class="tk" x="688.3" y="516.3" text-anchor="middle">-1</text>
<text class="tk" x="745.9" y="546.87" text-anchor="end">-1</text>
<text class="tk" x="754.3" y="516.3" text-anchor="middle">0</text>
<text class="tk" x="745.9" y="500.7" text-anchor="end">0</text>
<text class="tk" x="820.3" y="516.3" text-anchor="middle">1</text>
<text class="tk" x="745.9" y="454.53" text-anchor="end">1</text>
<text class="tk" x="886.3" y="516.3" text-anchor="middle">2</text>
<text class="tk" x="745.9" y="408.37" text-anchor="end">2</text>
<text class="tk" x="952.3" y="516.3" text-anchor="middle">3</text>
<text class="tk" x="745.9" y="362.2" text-anchor="end">3</text>
<path d="M631.8 543.1L840.7 465.4" stroke="#000" stroke-width="1.6" fill="none"/>
<path d="M713.5 431.5a3.4 3.4 0 1 0 6.8 0a3.4 3.4 0 1 0 -6.8 0M750.1 446.3a3.4 3.4 0 1 0 6.8 0a3.4 3.4 0 1 0 -6.8 0M735 461.4a3.4 3.4 0 1 0 6.8 0a3.4 3.4 0 1 0 -6.8 0M685.5 467.3a3.4 3.4 0 1 0 6.8 0a3.4 3.4 0 1 0 -6.8 0M707.9 476.7a3.4 3.4 0 1 0 6.8 0a3.4 3.4 0 1 0 -6.8 0M680 486.4a3.4 3.4 0 1 0 6.8 0a3.4 3.4 0 1 0 -6.8 0M728.8 483a3.4 3.4 0 1 0 6.8 0a3.4 3.4 0 1 0 -6.8 0M733.9 487.5a3.4 3.4 0 1 0 6.8 0a3.4 3.4 0 1 0 -6.8 0M743.8 481.1a3.4 3.4 0 1 0 6.8 0a3.4 3.4 0 1 0 -6.8 0M746.3 483.2a3.4 3.4 0 1 0 6.8 0a3.4 3.4 0 1 0 -6.8 0M744.6 487a3.4 3.4 0 1 0 6.8 0a3.4 3.4 0 1 0 -6.8 0M743.3 484.5a3.4 3.4 0 1 0 6.8 0a3.4 3.4 0 1 0 -6.8 0M747.2 494.7a3.4 3.4 0 1 0 6.8 0a3.4 3.4 0 1 0 -6.8 0M709.8 496.4a3.4 3.4 0 1 0 6.8 0a3.4 3.4 0 1 0 -6.8 0M716.6 496.4a3.4 3.4 0 1 0 6.8 0a3.4 3.4 0 1 0 -6.8 0M720.9 497.2a3.4 3.4 0 1 0 6.8 0a3.4 3.4 0 1 0 -6.8 0M726.8 497.2a3.4 3.4 0 1 0 6.8 0a3.4 3.4 0 1 0 -6.8 0M737 495.5a3.4 3.4 0 1 0 6.8 0a3.4 3.4 0 1 0 -6.8 0M760.2 475.5a3.4 3.4 0 1 0 6.8 0a3.4 3.4 0 1 0 -6.8 0M766.9 477a3.4 3.4 0 1 0 6.8 0a3.4 3.4 0 1 0 -6.8 0M774.5 477a3.4 3.4 0 1 0 6.8 0a3.4 3.4 0 1 0 -6.8 0M780.8 474.8a3.4 3.4 0 1 0 6.8 0a3.4 3.4 0 1 0 -6.8 0M765.4 482.7a3.4 3.4 0 1 0 6.8 0a3.4 3.4 0 1 0 -6.8 0M754.8 480.9a3.4 3.4 0 1 0 6.8 0a3.4 3.4 0 1 0 -6.8 0M757.2 478.5a3.4 3.4 0 1 0 6.8 0a3.4 3.4 0 1 0 -6.8 0M756 489.4a3.4 3.4 0 1 0 6.8 0a3.4 3.4 0 1 0 -6.8 0M754.8 485.8a3.4 3.4 0 1 0 6.8 0a3.4 3.4 0 1 0 -6.8 0M793.3 481.2a3.4 3.4 0 1 0 6.8 0a3.4 3.4 0 1 0 -6.8 0M793.3 490.6a3.4 3.4 0 1 0 6.8 0a3.4 3.4 0 1 0 -6.8 0M793.6 493.6a3.4 3.4 0 1 0 6.8 0a3.4 3.4 0 1 0 -6.8 0M781.4 493.3a3.4 3.4 0 1 0 6.8 0a3.4 3.4 0 1 0 -6.8 0M769.9 492.1a3.4 3.4 0 1 0 6.8 0a3.4 3.4 0 1 0 -6.8 0M763.9 495.5a3.4 3.4 0 1 0 6.8 0a3.4 3.4 0 1 0 -6.8 0M763.9 497.3a3.4 3.4 0 1 0 6.8 0a3.4 3.4 0 1 0 -6.8 0M747.5 494.2a3.4 3.4 0 1 0 6.8 0a3.4 3.4 0 1 0 -6.8 0M752.4 494.2a3.4 3.4 0 1 0 6.8 0a3.4 3.4 0 1 0 -6.8 0M754.2 496.1a3.4 3.4 0 1 0 6.8 0a3.4 3.4 0 1 0 -6.8 0M753.6 497.9a3.4 3.4 0 1 0 6.8 0a3.4 3.4 0 1 0 -6.8 0M756.6 502.7a3.4 3.4 0 1 0 6.8 0a3.4 3.4 0 1 0 -6.8 0M767.2 506.1a3.4 3.4 0 1 0 6.8 0a3.4 3.4 0 1 0 -6.8 0M761.1 509.4a3.4 3.4 0 1 0 6.8 0a3.4 3.4 0 1 0 -6.8 0M780.5 501.8a3.4 3.4 0 1 0 6.8 0a3.4 3.4 0 1 0 -6.8 0M784.8 508.8a3.4 3.4 0 1 0 6.8 0a3.4 3.4 0 1 0 -6.8 0M756.6 513.6a3.4 3.4 0 1 0 6.8 0a3.4 3.4 0 1 0 -6.8 0M756.6 517.9a3.4 3.4 0 1 0 6.8 0a3.4 3.4 0 1 0 -6.8 0M740.5 507a3.4 3.4 0 1 0 6.8 0a3.4 3.4 0 1 0 -6.8 0M731.1 510.9a3.4 3.4 0 1 0 6.8 0a3.4 3.4 0 1 0 -6.8 0M737.8 513.3a3.4 3.4 0 1 0 6.8 0a3.4 3.4 0 1 0 -6.8 0M728.7 517a3.4 3.4 0 1 0 6.8 0a3.4 3.4 0 1 0 -6.8 0M743.9 516.1a3.4 3.4 0 1 0 6.8 0a3.4 3.4 0 1 0 -6.8 0M742.7 518.5a3.4 3.4 0 1 0 6.8 0a3.4 3.4 0 1 0 -6.8 0M723.9 497.9a3.4 3.4 0 1 0 6.8 0a3.4 3.4 0 1 0 -6.8 0M739 496.7a3.4 3.4 0 1 0 6.8 0a3.4 3.4 0 1 0 -6.8 0M734.2 498.5a3.4 3.4 0 1 0 6.8 0a3.4 3.4 0 1 0 -6.8 0M730.5 499.1a3.4 3.4 0 1 0 6.8 0a3.4 3.4 0 1 0 -6.8 0M713.6 502.4a3.4 3.4 0 1 0 6.8 0a3.4 3.4 0 1 0 -6.8 0M719.6 502.7a3.4 3.4 0 1 0 6.8 0a3.4 3.4 0 1 0 -6.8 0M720.8 505.2a3.4 3.4 0 1 0 6.8 0a3.4 3.4 0 1 0 -6.8 0M719 507a3.4 3.4 0 1 0 6.8 0a3.4 3.4 0 1 0 -6.8 0M708.7 508.8a3.4 3.4 0 1 0 6.8 0a3.4 3.4 0 1 0 -6.8 0M706.9 510a3.4 3.4 0 1 0 6.8 0a3.4 3.4 0 1 0 -6.8 0M709.3 514.8a3.4 3.4 0 1 0 6.8 0a3.4 3.4 0 1 0 -6.8 0M748.7 497.3a3.4 3.4 0 1 0 6.8 0a3.4 3.4 0 1 0 -6.8 0M772.8 428.1a3.4 3.4 0 1 0 6.8 0a3.4 3.4 0 1 0 -6.8 0M786 430.2a3.4 3.4 0 1 0 6.8 0a3.4 3.4 0 1 0 -6.8 0M788.1 429.3a3.4 3.4 0 1 0 6.8 0a3.4 3.4 0 1 0 -6.8 0M810.8 432a3.4 3.4 0 1 0 6.8 0a3.4 3.4 0 1 0 -6.8 0M817.8 428.7a3.4 3.4 0 1 0 6.8 0a3.4 3.4 0 1 0 -6.8 0M780.9 437.4a3.4 3.4 0 1 0 6.8 0a3.4 3.4 0 1 0 -6.8 0M788.5 438.5a3.4 3.4 0 1 0 6.8 0a3.4 3.4 0 1 0 -6.8 0M774.1 446.5a3.4 3.4 0 1 0 6.8 0a3.4 3.4 0 1 0 -6.8 0M793.2 446.1a3.4 3.4 0 1 0 6.8 0a3.4 3.4 0 1 0 -6.8 0M798.1 447a3.4 3.4 0 1 0 6.8 0a3.4 3.4 0 1 0 -6.8 0M805.9 444.4a3.4 3.4 0 1 0 6.8 0a3.4 3.4 0 1 0 -6.8 0M828.6 447.6a3.4 3.4 0 1 0 6.8 0a3.4 3.4 0 1 0 -6.8 0M828.6 452.1a3.4 3.4 0 1 0 6.8 0a3.4 3.4 0 1 0 -6.8 0M819.5 454.8a3.4 3.4 0 1 0 6.8 0a3.4 3.4 0 1 0 -6.8 0M766.7 451.2a3.4 3.4 0 1 0 6.8 0a3.4 3.4 0 1 0 -6.8 0M760.8 454.4a3.4 3.4 0 1 0 6.8 0a3.4 3.4 0 1 0 -6.8 0M782.6 452.1a3.4 3.4 0 1 0 6.8 0a3.4 3.4 0 1 0 -6.8 0M780 453.8a3.4 3.4 0 1 0 6.8 0a3.4 3.4 0 1 0 -6.8 0M777.1 460.7a3.4 3.4 0 1 0 6.8 0a3.4 3.4 0 1 0 -6.8 0M780.9 462a3.4 3.4 0 1 0 6.8 0a3.4 3.4 0 1 0 -6.8 0M828.4 466.7a3.4 3.4 0 1 0 6.8 0a3.4 3.4 0 1 0 -6.8 0M828.6 478.1a3.4 3.4 0 1 0 6.8 0a3.4 3.4 0 1 0 -6.8 0M763.5 495.1a3.4 3.4 0 1 0 6.8 0a3.4 3.4 0 1 0 -6.8 0M684.4 512a3.4 3.4 0 1 0 6.8 0a3.4 3.4 0 1 0 -6.8 0M643.2 524a3.4 3.4 0 1 0 6.8 0a3.4 3.4 0 1 0 -6.8 0M636.4 528.7a3.4 3.4 0 1 0 6.8 0a3.4 3.4 0 1 0 -6.8 0M673.8 530.4a3.4 3.4 0 1 0 6.8 0a3.4 3.4 0 1 0 -6.8 0M684.6 528.7a3.4 3.4 0 1 0 6.8 0a3.4 3.4 0 1 0 -6.8 0M696.3 526.5a3.4 3.4 0 1 0 6.8 0a3.4 3.4 0 1 0 -6.8 0M700.9 525.7a3.4 3.4 0 1 0 6.8 0a3.4 3.4 0 1 0 -6.8 0M716.6 527.8a3.4 3.4 0 1 0 6.8 0a3.4 3.4 0 1 0 -6.8 0M718.3 528.2a3.4 3.4 0 1 0 6.8 0a3.4 3.4 0 1 0 -6.8 0M716.6 531.6a3.4 3.4 0 1 0 6.8 0a3.4 3.4 0 1 0 -6.8 0M727.2 527.4a3.4 3.4 0 1 0 6.8 0a3.4 3.4 0 1 0 -6.8 0M728.9 523.6a3.4 3.4 0 1 0 6.8 0a3.4 3.4 0 1 0 -6.8 0M732.3 524a3.4 3.4 0 1 0 6.8 0a3.4 3.4 0 1 0 -6.8 0M748.9 527a3.4 3.4 0 1 0 6.8 0a3.4 3.4 0 1 0 -6.8 0M734.9 538.4a3.4 3.4 0 1 0 6.8 0a3.4 3.4 0 1 0 -6.8 0M669.8 554.5a3.4 3.4 0 1 0 6.8 0a3.4 3.4 0 1 0 -6.8 0M717.1 555a3.4 3.4 0 1 0 6.8 0a3.4 3.4 0 1 0 -6.8 0M627.4 563.5a3.4 3.4 0 1 0 6.8 0a3.4 3.4 0 1 0 -6.8 0M737 563.3a3.4 3.4 0 1 0 6.8 0a3.4 3.4 0 1 0 -6.8 0M705.2 569.6a3.4 3.4 0 1 0 6.8 0a3.4 3.4 0 1 0 -6.8 0M637.7 573.8a3.4 3.4 0 1 0 6.8 0a3.4 3.4 0 1 0 -6.8 0M741.2 604.6a3.4 3.4 0 1 0 6.8 0a3.4 3.4 0 1 0 -6.8 0M659.1 503.8a3.4 3.4 0 1 0 6.8 0a3.4 3.4 0 1 0 -6.8 0M756.7 528.8a3.4 3.4 0 1 0 6.8 0a3.4 3.4 0 1 0 -6.8 0M756.3 534.4a3.4 3.4 0 1 0 6.8 0a3.4 3.4 0 1 0 -6.8 0M836.9 525.5a3.4 3.4 0 1 0 6.8 0a3.4 3.4 0 1 0 -6.8 0M822.3 532.7a3.4 3.4 0 1 0 6.8 0a3.4 3.4 0 1 0 -6.8 0M791.7 538.2a3.4 3.4 0 1 0 6.8 0a3.4 3.4 0 1 0 -6.8 0M780.7 541.4a3.4 3.4 0 1 0 6.8 0a3.4 3.4 0 1 0 -6.8 0M801.9 561.3a3.4 3.4 0 1 0 6.8 0a3.4 3.4 0 1 0 -6.8 0M779.2 575.8a3.4 3.4 0 1 0 6.8 0a3.4 3.4 0 1 0 -6.8 0M771.7 587a3.4 3.4 0 1 0 6.8 0a3.4 3.4 0 1 0 -6.8 0M794 588.1a3.4 3.4 0 1 0 6.8 0a3.4 3.4 0 1 0 -6.8 0" fill="#000"/>
<text class="lab" x="556" y="351.2">b.2)</text>
<text class="tt" x="767.1" y="357.7" textLength="125.9" lengthAdjust="spacingAndGlyphs">Home range size</text>
<text class="tt" x="890.4" y="536.7" textLength="178.5" lengthAdjust="spacingAndGlyphs">Time at feeding station</text>
<path d="M1129.3 497.1H1518M1323.1 357.2V637.8" stroke="#585858" stroke-width="1.5" fill="none"/>
<path d="M1129.3 497.1v4.3M1323.1 637.8h-4.3M1194.08 497.1v4.3M1323.1 591.03h-4.3M1258.87 497.1v4.3M1323.1 544.27h-4.3M1323.65 497.1v4.3M1323.1 497.5h-4.3M1388.43 497.1v4.3M1323.1 450.73h-4.3M1453.22 497.1v4.3M1323.1 403.97h-4.3M1518 497.1v4.3M1323.1 357.2h-4.3" stroke="#585858" stroke-width="1.3" fill="none"/>
<text class="tk" x="1129.3" y="516.3" text-anchor="middle">-3</text>
<text class="tk" x="1314.5" y="641" text-anchor="end">-3</text>
<text class="tk" x="1194.08" y="516.3" text-anchor="middle">-2</text>
<text class="tk" x="1314.5" y="594.23" text-anchor="end">-2</text>
<text class="tk" x="1258.87" y="516.3" text-anchor="middle">-1</text>
<text class="tk" x="1314.5" y="547.47" text-anchor="end">-1</text>
<text class="tk" x="1323.65" y="516.3" text-anchor="middle">0</text>
<text class="tk" x="1314.5" y="500.7" text-anchor="end">0</text>
<text class="tk" x="1388.43" y="516.3" text-anchor="middle">1</text>
<text class="tk" x="1314.5" y="453.93" text-anchor="end">1</text>
<text class="tk" x="1453.22" y="516.3" text-anchor="middle">2</text>
<text class="tk" x="1314.5" y="407.17" text-anchor="end">2</text>
<text class="tk" x="1518" y="516.3" text-anchor="middle">3</text>
<text class="tk" x="1314.5" y="360.4" text-anchor="end">3</text>
<path d="M1238.3 460.7L1443.9 549" stroke="#000" stroke-width="1.1" fill="none"/>
<path d="M1288.5 389.2a3.4 3.4 0 1 0 6.8 0a3.4 3.4 0 1 0 -6.8 0M1254 405.3a3.4 3.4 0 1 0 6.8 0a3.4 3.4 0 1 0 -6.8 0M1283.2 404.1a3.4 3.4 0 1 0 6.8 0a3.4 3.4 0 1 0 -6.8 0M1242.8 427.8a3.4 3.4 0 1 0 6.8 0a3.4 3.4 0 1 0 -6.8 0M1242.8 429.6a3.4 3.4 0 1 0 6.8 0a3.4 3.4 0 1 0 -6.8 0M1260.1 423a3.4 3.4 0 1 0 6.8 0a3.4 3.4 0 1 0 -6.8 0M1282.5 427.2a3.4 3.4 0 1 0 6.8 0a3.4 3.4 0 1 0 -6.8 0M1317.5 428.1a3.4 3.4 0 1 0 6.8 0a3.4 3.4 0 1 0 -6.8 0M1265.7 439.5a3.4 3.4 0 1 0 6.8 0a3.4 3.4 0 1 0 -6.8 0M1306.3 434.7a3.4 3.4 0 1 0 6.8 0a3.4 3.4 0 1 0 -6.8 0M1313.5 439.7a3.4 3.4 0 1 0 6.8 0a3.4 3.4 0 1 0 -6.8 0M1297.9 443.2a3.4 3.4 0 1 0 6.8 0a3.4 3.4 0 1 0 -6.8 0M1306.5 447.2a3.4 3.4 0 1 0 6.8 0a3.4 3.4 0 1 0 -6.8 0M1300.8 448.9a3.4 3.4 0 1 0 6.8 0a3.4 3.4 0 1 0 -6.8 0M1313.5 450.2a3.4 3.4 0 1 0 6.8 0a3.4 3.4 0 1 0 -6.8 0M1303.7 454.5a3.4 3.4 0 1 0 6.8 0a3.4 3.4 0 1 0 -6.8 0M1290.3 452.9a3.4 3.4 0 1 0 6.8 0a3.4 3.4 0 1 0 -6.8 0M1284.7 455.7a3.4 3.4 0 1 0 6.8 0a3.4 3.4 0 1 0 -6.8 0M1289.8 458.1a3.4 3.4 0 1 0 6.8 0a3.4 3.4 0 1 0 -6.8 0M1278 456.8a3.4 3.4 0 1 0 6.8 0a3.4 3.4 0 1 0 -6.8 0M1278 462.1a3.4 3.4 0 1 0 6.8 0a3.4 3.4 0 1 0 -6.8 0M1277.1 467.4a3.4 3.4 0 1 0 6.8 0a3.4 3.4 0 1 0 -6.8 0M1277.5 473.8a3.4 3.4 0 1 0 6.8 0a3.4 3.4 0 1 0 -6.8 0M1313.5 463.8a3.4 3.4 0 1 0 6.8 0a3.4 3.4 0 1 0 -6.8 0M1309.1 470.9a3.4 3.4 0 1 0 6.8 0a3.4 3.4 0 1 0 -6.8 0M1314 470.9a3.4 3.4 0 1 0 6.8 0a3.4 3.4 0 1 0 -6.8 0M1317 476.1a3.4 3.4 0 1 0 6.8 0a3.4 3.4 0 1 0 -6.8 0M1304.7 481.4a3.4 3.4 0 1 0 6.8 0a3.4 3.4 0 1 0 -6.8 0M1313.5 481.8a3.4 3.4 0 1 0 6.8 0a3.4 3.4 0 1 0 -6.8 0M1234.9 468.8a3.4 3.4 0 1 0 6.8 0a3.4 3.4 0 1 0 -6.8 0M1249 467.8a3.4 3.4 0 1 0 6.8 0a3.4 3.4 0 1 0 -6.8 0M1252.1 470.4a3.4 3.4 0 1 0 6.8 0a3.4 3.4 0 1 0 -6.8 0M1242.8 477a3.4 3.4 0 1 0 6.8 0a3.4 3.4 0 1 0 -6.8 0M1242.8 480.1a3.4 3.4 0 1 0 6.8 0a3.4 3.4 0 1 0 -6.8 0M1286.3 483.4a3.4 3.4 0 1 0 6.8 0a3.4 3.4 0 1 0 -6.8 0M1294 487.1a3.4 3.4 0 1 0 6.8 0a3.4 3.4 0 1 0 -6.8 0M1291.6 492.4a3.4 3.4 0 1 0 6.8 0a3.4 3.4 0 1 0 -6.8 0M1316.2 490.2a3.4 3.4 0 1 0 6.8 0a3.4 3.4 0 1 0 -6.8 0M1324.9 487.5a3.4 3.4 0 1 0 6.8 0a3.4 3.4 0 1 0 -6.8 0M1324.9 490.6a3.4 3.4 0 1 0 6.8 0a3.4 3.4 0 1 0 -6.8 0M1299.5 493.7a3.4 3.4 0 1 0 6.8 0a3.4 3.4 0 1 0 -6.8 0M1334.8 399.3a3.4 3.4 0 1 0 6.8 0a3.4 3.4 0 1 0 -6.8 0M1341.6 397.4a3.4 3.4 0 1 0 6.8 0a3.4 3.4 0 1 0 -6.8 0M1336.1 448a3.4 3.4 0 1 0 6.8 0a3.4 3.4 0 1 0 -6.8 0M1333.6 454.8a3.4 3.4 0 1 0 6.8 0a3.4 3.4 0 1 0 -6.8 0M1360.1 453.6a3.4 3.4 0 1 0 6.8 0a3.4 3.4 0 1 0 -6.8 0M1341.8 462.5a3.4 3.4 0 1 0 6.8 0a3.4 3.4 0 1 0 -6.8 0M1346 461.8a3.4 3.4 0 1 0 6.8 0a3.4 3.4 0 1 0 -6.8 0M1351 471.1a3.4 3.4 0 1 0 6.8 0a3.4 3.4 0 1 0 -6.8 0M1352.9 478.3a3.4 3.4 0 1 0 6.8 0a3.4 3.4 0 1 0 -6.8 0M1332.6 480.8a3.4 3.4 0 1 0 6.8 0a3.4 3.4 0 1 0 -6.8 0M1341.1 481.6a3.4 3.4 0 1 0 6.8 0a3.4 3.4 0 1 0 -6.8 0M1360.5 491.9a3.4 3.4 0 1 0 6.8 0a3.4 3.4 0 1 0 -6.8 0M1383.7 492.4a3.4 3.4 0 1 0 6.8 0a3.4 3.4 0 1 0 -6.8 0M1303.4 496.6a3.4 3.4 0 1 0 6.8 0a3.4 3.4 0 1 0 -6.8 0M1296.7 500.5a3.4 3.4 0 1 0 6.8 0a3.4 3.4 0 1 0 -6.8 0M1313.2 500.5a3.4 3.4 0 1 0 6.8 0a3.4 3.4 0 1 0 -6.8 0M1314.6 495.5a3.4 3.4 0 1 0 6.8 0a3.4 3.4 0 1 0 -6.8 0M1320.5 502.8a3.4 3.4 0 1 0 6.8 0a3.4 3.4 0 1 0 -6.8 0M1328.3 497.3a3.4 3.4 0 1 0 6.8 0a3.4 3.4 0 1 0 -6.8 0M1242.6 508.8a3.4 3.4 0 1 0 6.8 0a3.4 3.4 0 1 0 -6.8 0M1268.7 510.9a3.4 3.4 0 1 0 6.8 0a3.4 3.4 0 1 0 -6.8 0M1273.3 507.9a3.4 3.4 0 1 0 6.8 0a3.4 3.4 0 1 0 -6.8 0M1290.5 510a3.4 3.4 0 1 0 6.8 0a3.4 3.4 0 1 0 -6.8 0M1313.5 510.2a3.4 3.4 0 1 0 6.8 0a3.4 3.4 0 1 0 -6.8 0M1320.1 510.5a3.4 3.4 0 1 0 6.8 0a3.4 3.4 0 1 0 -6.8 0M1242.6 522.3a3.4 3.4 0 1 0 6.8 0a3.4 3.4 0 1 0 -6.8 0M1290 521a3.4 3.4 0 1 0 6.8 0a3.4 3.4 0 1 0 -6.8 0M1289.6 524.4a3.4 3.4 0 1 0 6.8 0a3.4 3.4 0 1 0 -6.8 0M1310.4 517.9a3.4 3.4 0 1 0 6.8 0a3.4 3.4 0 1 0 -6.8 0M1314.4 523.7a3.4 3.4 0 1 0 6.8 0a3.4 3.4 0 1 0 -6.8 0M1322.3 521.6a3.4 3.4 0 1 0 6.8 0a3.4 3.4 0 1 0 -6.8 0M1326.5 519.8a3.4 3.4 0 1 0 6.8 0a3.4 3.4 0 1 0 -6.8 0M1328.8 527.6a3.4 3.4 0 1 0 6.8 0a3.4 3.4 0 1 0 -6.8 0M1279.3 528a3.4 3.4 0 1 0 6.8 0a3.4 3.4 0 1 0 -6.8 0M1276.8 534.4a3.4 3.4 0 1 0 6.8 0a3.4 3.4 0 1 0 -6.8 0M1321.4 539.5a3.4 3.4 0 1 0 6.8 0a3.4 3.4 0 1 0 -6.8 0M1303.1 541.8a3.4 3.4 0 1 0 6.8 0a3.4 3.4 0 1 0 -6.8 0M1313.2 545a3.4 3.4 0 1 0 6.8 0a3.4 3.4 0 1 0 -6.8 0M1309.1 548.6a3.4 3.4 0 1 0 6.8 0a3.4 3.4 0 1 0 -6.8 0M1323.3 548.6a3.4 3.4 0 1 0 6.8 0a3.4 3.4 0 1 0 -6.8 0M1327.4 567.7a3.4 3.4 0 1 0 6.8 0a3.4 3.4 0 1 0 -6.8 0M1290 576.9a3.4 3.4 0 1 0 6.8 0a3.4 3.4 0 1 0 -6.8 0M1296.2 583.9a3.4 3.4 0 1 0 6.8 0a3.4 3.4 0 1 0 -6.8 0M1277.7 601.3a3.4 3.4 0 1 0 6.8 0a3.4 3.4 0 1 0 -6.8 0M1356 505.8a3.4 3.4 0 1 0 6.8 0a3.4 3.4 0 1 0 -6.8 0M1350.1 512.2a3.4 3.4 0 1 0 6.8 0a3.4 3.4 0 1 0 -6.8 0M1352.7 511.4a3.4 3.4 0 1 0 6.8 0a3.4 3.4 0 1 0 -6.8 0M1334.9 513.5a3.4 3.4 0 1 0 6.8 0a3.4 3.4 0 1 0 -6.8 0M1332.9 519.4a3.4 3.4 0 1 0 6.8 0a3.4 3.4 0 1 0 -6.8 0M1361.9 519.8a3.4 3.4 0 1 0 6.8 0a3.4 3.4 0 1 0 -6.8 0M1368.8 517.7a3.4 3.4 0 1 0 6.8 0a3.4 3.4 0 1 0 -6.8 0M1399.3 518.5a3.4 3.4 0 1 0 6.8 0a3.4 3.4 0 1 0 -6.8 0M1430.3 519.2a3.4 3.4 0 1 0 6.8 0a3.4 3.4 0 1 0 -6.8 0M1389.2 524.6a3.4 3.4 0 1 0 6.8 0a3.4 3.4 0 1 0 -6.8 0M1341.3 526.9a3.4 3.4 0 1 0 6.8 0a3.4 3.4 0 1 0 -6.8 0M1343 526.1a3.4 3.4 0 1 0 6.8 0a3.4 3.4 0 1 0 -6.8 0M1356 531.6a3.4 3.4 0 1 0 6.8 0a3.4 3.4 0 1 0 -6.8 0M1361.9 535.3a3.4 3.4 0 1 0 6.8 0a3.4 3.4 0 1 0 -6.8 0M1364.8 537.9a3.4 3.4 0 1 0 6.8 0a3.4 3.4 0 1 0 -6.8 0M1373 534.1a3.4 3.4 0 1 0 6.8 0a3.4 3.4 0 1 0 -6.8 0M1384.7 533.1a3.4 3.4 0 1 0 6.8 0a3.4 3.4 0 1 0 -6.8 0M1425.3 536a3.4 3.4 0 1 0 6.8 0a3.4 3.4 0 1 0 -6.8 0M1432 538.5a3.4 3.4 0 1 0 6.8 0a3.4 3.4 0 1 0 -6.8 0M1440.6 535.8a3.4 3.4 0 1 0 6.8 0a3.4 3.4 0 1 0 -6.8 0M1337.1 537a3.4 3.4 0 1 0 6.8 0a3.4 3.4 0 1 0 -6.8 0M1338 541.2a3.4 3.4 0 1 0 6.8 0a3.4 3.4 0 1 0 -6.8 0M1349.3 537.9a3.4 3.4 0 1 0 6.8 0a3.4 3.4 0 1 0 -6.8 0M1353.5 540a3.4 3.4 0 1 0 6.8 0a3.4 3.4 0 1 0 -6.8 0M1359.8 542.5a3.4 3.4 0 1 0 6.8 0a3.4 3.4 0 1 0 -6.8 0M1409.6 553.1a3.4 3.4 0 1 0 6.8 0a3.4 3.4 0 1 0 -6.8 0M1383.9 558.7a3.4 3.4 0 1 0 6.8 0a3.4 3.4 0 1 0 -6.8 0M1384.1 565.1a3.4 3.4 0 1 0 6.8 0a3.4 3.4 0 1 0 -6.8 0M1395.1 566.4a3.4 3.4 0 1 0 6.8 0a3.4 3.4 0 1 0 -6.8 0M1352.2 564.3a3.4 3.4 0 1 0 6.8 0a3.4 3.4 0 1 0 -6.8 0M1352.2 566a3.4 3.4 0 1 0 6.8 0a3.4 3.4 0 1 0 -6.8 0" fill="#000"/>
<text class="lab" x="1131" y="352.3">b.3)</text>
<text class="tt" x="1330.1" y="352.3" textLength="103.8" lengthAdjust="spacingAndGlyphs">Flight activity</text>
<text class="tt" x="1467.8" y="537.3" textLength="178.1" lengthAdjust="spacingAndGlyphs">Time at feeding station</text>
<path d="M13.3 828.4H409.6M212.5 689.7V967.3" stroke="#505050" stroke-width="1.4" fill="none"/>
<path d="M13.3 828.4v4.3M212.5 967.3h-4.3M79.35 828.4v4.3M212.5 921.03h-4.3M145.4 828.4v4.3M212.5 874.77h-4.3M211.45 828.4v4.3M212.5 828.5h-4.3M277.5 828.4v4.3M212.5 782.23h-4.3M343.55 828.4v4.3M212.5 735.97h-4.3M409.6 828.4v4.3M212.5 689.7h-4.3" stroke="#505050" stroke-width="1.3" fill="none"/>
<text class="tk" x="11.3" y="847.6" text-anchor="middle">-1.5</text>
<text class="tk" x="203.9" y="970.5" text-anchor="end">-1.5</text>
<text class="tk" x="79.35" y="847.6" text-anchor="middle">-1.0</text>
<text class="tk" x="203.9" y="924.23" text-anchor="end">-1.0</text>
<text class="tk" x="145.4" y="847.6" text-anchor="middle">-0.5</text>
<text class="tk" x="203.9" y="877.97" text-anchor="end">-0.5</text>
<text class="tk" x="211.45" y="847.6" text-anchor="middle">0.0</text>
<text class="tk" x="203.9" y="831.7" text-anchor="end">0.0</text>
<text class="tk" x="277.5" y="847.6" text-anchor="middle">0.5</text>
<text class="tk" x="203.9" y="785.43" text-anchor="end">0.5</text>
<text class="tk" x="343.55" y="847.6" text-anchor="middle">1.0</text>
<text class="tk" x="203.9" y="739.17" text-anchor="end">1.0</text>
<text class="tk" x="409.6" y="847.6" text-anchor="middle">1.5</text>
<text class="tk" x="203.9" y="692.9" text-anchor="end">1.5</text>
<path d="M123.2 785.8a3.4 3.4 0 1 0 6.8 0a3.4 3.4 0 1 0 -6.8 0M243 791.6a3.4 3.4 0 1 0 6.8 0a3.4 3.4 0 1 0 -6.8 0M269.8 811.6a3.4 3.4 0 1 0 6.8 0a3.4 3.4 0 1 0 -6.8 0M312.5 793.7a3.4 3.4 0 1 0 6.8 0a3.4 3.4 0 1 0 -6.8 0M326.8 795.2a3.4 3.4 0 1 0 6.8 0a3.4 3.4 0 1 0 -6.8 0M308.6 812.9a3.4 3.4 0 1 0 6.8 0a3.4 3.4 0 1 0 -6.8 0M314.7 814.4a3.4 3.4 0 1 0 6.8 0a3.4 3.4 0 1 0 -6.8 0M309 823.6a3.4 3.4 0 1 0 6.8 0a3.4 3.4 0 1 0 -6.8 0M240.6 869a3.4 3.4 0 1 0 6.8 0a3.4 3.4 0 1 0 -6.8 0M39 892a3.4 3.4 0 1 0 6.8 0a3.4 3.4 0 1 0 -6.8 0" fill="#000"/>
<text class="lab" x="12.3" y="684">c.1)</text>
<text class="tt" x="221.7" y="687.7" textLength="126.2" lengthAdjust="spacingAndGlyphs">Home range size</text>
<text class="tt" x="346.4" y="866" textLength="178.5" lengthAdjust="spacingAndGlyphs">Time at feeding station</text>
<path d="M556.7 828.5H953M754.5 689V967.3" stroke="#585858" stroke-width="1.5" fill="none"/>
<path d="M556.7 828.5v4.3M754.5 967.3h-4.3M622.75 828.5v4.3M754.5 920.92h-4.3M688.8 828.5v4.3M754.5 874.53h-4.3M754.85 828.5v4.3M754.5 828.15h-4.3M820.9 828.5v4.3M754.5 781.77h-4.3M886.95 828.5v4.3M754.5 735.38h-4.3M953 828.5v4.3M754.5 689h-4.3" stroke="#585858" stroke-width="1.3" fill="none"/>
<text class="tk" x="556.7" y="847.7" text-anchor="middle">-3</text>
<text class="tk" x="745.9" y="970.5" text-anchor="end">-3</text>
<text class="tk" x="622.75" y="847.7" text-anchor="middle">-2</text>
<text class="tk" x="745.9" y="924.12" text-anchor="end">-2</text>
<text class="tk" x="688.8" y="847.7" text-anchor="middle">-1</text>
<text class="tk" x="745.9" y="877.73" text-anchor="end">-1</text>
<text class="tk" x="754.85" y="847.7" text-anchor="middle">0</text>
<text class="tk" x="745.9" y="831.35" text-anchor="end">0</text>
<text class="tk" x="820.9" y="847.7" text-anchor="middle">1</text>
<text class="tk" x="745.9" y="784.97" text-anchor="end">1</text>
<text class="tk" x="886.95" y="847.7" text-anchor="middle">2</text>
<text class="tk" x="745.9" y="738.58" text-anchor="end">2</text>
<text class="tk" x="953" y="847.7" text-anchor="middle">3</text>
<text class="tk" x="745.9" y="692.2" text-anchor="end">3</text>
<path d="M708.2 758.6a3.4 3.4 0 1 0 6.8 0a3.4 3.4 0 1 0 -6.8 0M712.5 778.9a3.4 3.4 0 1 0 6.8 0a3.4 3.4 0 1 0 -6.8 0M717.1 778.6a3.4 3.4 0 1 0 6.8 0a3.4 3.4 0 1 0 -6.8 0M734.8 777.3a3.4 3.4 0 1 0 6.8 0a3.4 3.4 0 1 0 -6.8 0M739.8 775.3a3.4 3.4 0 1 0 6.8 0a3.4 3.4 0 1 0 -6.8 0M670.7 790.9a3.4 3.4 0 1 0 6.8 0a3.4 3.4 0 1 0 -6.8 0M671 795a3.4 3.4 0 1 0 6.8 0a3.4 3.4 0 1 0 -6.8 0M678.6 795.2a3.4 3.4 0 1 0 6.8 0a3.4 3.4 0 1 0 -6.8 0M678.4 803.2a3.4 3.4 0 1 0 6.8 0a3.4 3.4 0 1 0 -6.8 0M648.9 810.2a3.4 3.4 0 1 0 6.8 0a3.4 3.4 0 1 0 -6.8 0M694.6 815.3a3.4 3.4 0 1 0 6.8 0a3.4 3.4 0 1 0 -6.8 0M730 800.7a3.4 3.4 0 1 0 6.8 0a3.4 3.4 0 1 0 -6.8 0M751.9 802.5a3.4 3.4 0 1 0 6.8 0a3.4 3.4 0 1 0 -6.8 0M723 808.9a3.4 3.4 0 1 0 6.8 0a3.4 3.4 0 1 0 -6.8 0M720.5 815a3.4 3.4 0 1 0 6.8 0a3.4 3.4 0 1 0 -6.8 0M711.4 819.5a3.4 3.4 0 1 0 6.8 0a3.4 3.4 0 1 0 -6.8 0M746.4 815.5a3.4 3.4 0 1 0 6.8 0a3.4 3.4 0 1 0 -6.8 0M753 814.5a3.4 3.4 0 1 0 6.8 0a3.4 3.4 0 1 0 -6.8 0M753 820a3.4 3.4 0 1 0 6.8 0a3.4 3.4 0 1 0 -6.8 0M752.1 823.6a3.4 3.4 0 1 0 6.8 0a3.4 3.4 0 1 0 -6.8 0M741.6 822.3a3.4 3.4 0 1 0 6.8 0a3.4 3.4 0 1 0 -6.8 0M747.3 823.6a3.4 3.4 0 1 0 6.8 0a3.4 3.4 0 1 0 -6.8 0M731.6 825.3a3.4 3.4 0 1 0 6.8 0a3.4 3.4 0 1 0 -6.8 0M660.7 824.1a3.4 3.4 0 1 0 6.8 0a3.4 3.4 0 1 0 -6.8 0M714.8 826.8a3.4 3.4 0 1 0 6.8 0a3.4 3.4 0 1 0 -6.8 0M721.1 827.3a3.4 3.4 0 1 0 6.8 0a3.4 3.4 0 1 0 -6.8 0M739.3 828.2a3.4 3.4 0 1 0 6.8 0a3.4 3.4 0 1 0 -6.8 0M871.9 759.8a3.4 3.4 0 1 0 6.8 0a3.4 3.4 0 1 0 -6.8 0M894.1 758a3.4 3.4 0 1 0 6.8 0a3.4 3.4 0 1 0 -6.8 0M860 774.7a3.4 3.4 0 1 0 6.8 0a3.4 3.4 0 1 0 -6.8 0M894.1 774.7a3.4 3.4 0 1 0 6.8 0a3.4 3.4 0 1 0 -6.8 0M759.3 778.2a3.4 3.4 0 1 0 6.8 0a3.4 3.4 0 1 0 -6.8 0M759.3 784.5a3.4 3.4 0 1 0 6.8 0a3.4 3.4 0 1 0 -6.8 0M763.4 783.2a3.4 3.4 0 1 0 6.8 0a3.4 3.4 0 1 0 -6.8 0M759.3 786.4a3.4 3.4 0 1 0 6.8 0a3.4 3.4 0 1 0 -6.8 0M780.2 788.9a3.4 3.4 0 1 0 6.8 0a3.4 3.4 0 1 0 -6.8 0M852.1 793.6a3.4 3.4 0 1 0 6.8 0a3.4 3.4 0 1 0 -6.8 0M759.3 795.5a3.4 3.4 0 1 0 6.8 0a3.4 3.4 0 1 0 -6.8 0M759.3 798.2a3.4 3.4 0 1 0 6.8 0a3.4 3.4 0 1 0 -6.8 0M771.6 799.8a3.4 3.4 0 1 0 6.8 0a3.4 3.4 0 1 0 -6.8 0M812.8 798a3.4 3.4 0 1 0 6.8 0a3.4 3.4 0 1 0 -6.8 0M759.3 802.7a3.4 3.4 0 1 0 6.8 0a3.4 3.4 0 1 0 -6.8 0M759.3 808.2a3.4 3.4 0 1 0 6.8 0a3.4 3.4 0 1 0 -6.8 0M785 807.5a3.4 3.4 0 1 0 6.8 0a3.4 3.4 0 1 0 -6.8 0M818 808.6a3.4 3.4 0 1 0 6.8 0a3.4 3.4 0 1 0 -6.8 0M849.3 804.5a3.4 3.4 0 1 0 6.8 0a3.4 3.4 0 1 0 -6.8 0M770.4 811.6a3.4 3.4 0 1 0 6.8 0a3.4 3.4 0 1 0 -6.8 0M793.1 814.1a3.4 3.4 0 1 0 6.8 0a3.4 3.4 0 1 0 -6.8 0M801.9 814.7a3.4 3.4 0 1 0 6.8 0a3.4 3.4 0 1 0 -6.8 0M849.3 815.6a3.4 3.4 0 1 0 6.8 0a3.4 3.4 0 1 0 -6.8 0M801.9 820.9a3.4 3.4 0 1 0 6.8 0a3.4 3.4 0 1 0 -6.8 0M767.3 822.3a3.4 3.4 0 1 0 6.8 0a3.4 3.4 0 1 0 -6.8 0M778.6 821.8a3.4 3.4 0 1 0 6.8 0a3.4 3.4 0 1 0 -6.8 0M825.5 828.2a3.4 3.4 0 1 0 6.8 0a3.4 3.4 0 1 0 -6.8 0M660.1 832.5a3.4 3.4 0 1 0 6.8 0a3.4 3.4 0 1 0 -6.8 0M674.8 831.1a3.4 3.4 0 1 0 6.8 0a3.4 3.4 0 1 0 -6.8 0M707.5 831.1a3.4 3.4 0 1 0 6.8 0a3.4 3.4 0 1 0 -6.8 0M711.1 833.8a3.4 3.4 0 1 0 6.8 0a3.4 3.4 0 1 0 -6.8 0M710.2 836.5a3.4 3.4 0 1 0 6.8 0a3.4 3.4 0 1 0 -6.8 0M713.9 833.8a3.4 3.4 0 1 0 6.8 0a3.4 3.4 0 1 0 -6.8 0M720.1 836.5a3.4 3.4 0 1 0 6.8 0a3.4 3.4 0 1 0 -6.8 0M740.2 830.6a3.4 3.4 0 1 0 6.8 0a3.4 3.4 0 1 0 -6.8 0M748 830.2a3.4 3.4 0 1 0 6.8 0a3.4 3.4 0 1 0 -6.8 0M738.6 837.9a3.4 3.4 0 1 0 6.8 0a3.4 3.4 0 1 0 -6.8 0M753.9 835.6a3.4 3.4 0 1 0 6.8 0a3.4 3.4 0 1 0 -6.8 0M686.1 841.8a3.4 3.4 0 1 0 6.8 0a3.4 3.4 0 1 0 -6.8 0M722.5 843.8a3.4 3.4 0 1 0 6.8 0a3.4 3.4 0 1 0 -6.8 0M728 845.5a3.4 3.4 0 1 0 6.8 0a3.4 3.4 0 1 0 -6.8 0M704.8 848.4a3.4 3.4 0 1 0 6.8 0a3.4 3.4 0 1 0 -6.8 0M709.3 846.1a3.4 3.4 0 1 0 6.8 0a3.4 3.4 0 1 0 -6.8 0M614.8 849.3a3.4 3.4 0 1 0 6.8 0a3.4 3.4 0 1 0 -6.8 0M664.8 857.5a3.4 3.4 0 1 0 6.8 0a3.4 3.4 0 1 0 -6.8 0M688 853.8a3.4 3.4 0 1 0 6.8 0a3.4 3.4 0 1 0 -6.8 0M688.4 859.3a3.4 3.4 0 1 0 6.8 0a3.4 3.4 0 1 0 -6.8 0M690.2 870a3.4 3.4 0 1 0 6.8 0a3.4 3.4 0 1 0 -6.8 0M745.2 862.7a3.4 3.4 0 1 0 6.8 0a3.4 3.4 0 1 0 -6.8 0M735 867.9a3.4 3.4 0 1 0 6.8 0a3.4 3.4 0 1 0 -6.8 0M727.1 874.5a3.4 3.4 0 1 0 6.8 0a3.4 3.4 0 1 0 -6.8 0M751.1 870.2a3.4 3.4 0 1 0 6.8 0a3.4 3.4 0 1 0 -6.8 0M754.3 874.7a3.4 3.4 0 1 0 6.8 0a3.4 3.4 0 1 0 -6.8 0M721 896.7a3.4 3.4 0 1 0 6.8 0a3.4 3.4 0 1 0 -6.8 0M705.2 902.9a3.4 3.4 0 1 0 6.8 0a3.4 3.4 0 1 0 -6.8 0M695.7 914a3.4 3.4 0 1 0 6.8 0a3.4 3.4 0 1 0 -6.8 0M759.8 837a3.4 3.4 0 1 0 6.8 0a3.4 3.4 0 1 0 -6.8 0M770.7 834.9a3.4 3.4 0 1 0 6.8 0a3.4 3.4 0 1 0 -6.8 0M768.9 839.7a3.4 3.4 0 1 0 6.8 0a3.4 3.4 0 1 0 -6.8 0M792.1 839.3a3.4 3.4 0 1 0 6.8 0a3.4 3.4 0 1 0 -6.8 0M801.9 836.1a3.4 3.4 0 1 0 6.8 0a3.4 3.4 0 1 0 -6.8 0M766.1 845.8a3.4 3.4 0 1 0 6.8 0a3.4 3.4 0 1 0 -6.8 0M759.3 847.9a3.4 3.4 0 1 0 6.8 0a3.4 3.4 0 1 0 -6.8 0M757.5 857a3.4 3.4 0 1 0 6.8 0a3.4 3.4 0 1 0 -6.8 0M763 854.7a3.4 3.4 0 1 0 6.8 0a3.4 3.4 0 1 0 -6.8 0M768.4 857a3.4 3.4 0 1 0 6.8 0a3.4 3.4 0 1 0 -6.8 0M760.2 860.2a3.4 3.4 0 1 0 6.8 0a3.4 3.4 0 1 0 -6.8 0M764.8 860.2a3.4 3.4 0 1 0 6.8 0a3.4 3.4 0 1 0 -6.8 0M759.3 863.8a3.4 3.4 0 1 0 6.8 0a3.4 3.4 0 1 0 -6.8 0M784.6 855.8a3.4 3.4 0 1 0 6.8 0a3.4 3.4 0 1 0 -6.8 0M820.2 862a3.4 3.4 0 1 0 6.8 0a3.4 3.4 0 1 0 -6.8 0M796.6 871.1a3.4 3.4 0 1 0 6.8 0a3.4 3.4 0 1 0 -6.8 0M835 870.8a3.4 3.4 0 1 0 6.8 0a3.4 3.4 0 1 0 -6.8 0M813.4 876.7a3.4 3.4 0 1 0 6.8 0a3.4 3.4 0 1 0 -6.8 0M771 879.1a3.4 3.4 0 1 0 6.8 0a3.4 3.4 0 1 0 -6.8 0M861.8 879.1a3.4 3.4 0 1 0 6.8 0a3.4 3.4 0 1 0 -6.8 0M796.6 908.2a3.4 3.4 0 1 0 6.8 0a3.4 3.4 0 1 0 -6.8 0" fill="#000"/>
<text class="lab" x="556" y="684.5">c.2)</text>
<text class="tt" x="767.1" y="687.7" textLength="125.9" lengthAdjust="spacingAndGlyphs">Home range size</text>
<text class="tt" x="891.8" y="866" textLength="177.8" lengthAdjust="spacingAndGlyphs">Time at feeding station</text>
<path d="M1130.7 829.3H1520M1324.7 689.2V968.8" stroke="#585858" stroke-width="1.5" fill="none"/>
<path d="M1130.7 829.3v4.3M1324.7 968.8h-4.3M1195.58 829.3v4.3M1324.7 922.2h-4.3M1260.47 829.3v4.3M1324.7 875.6h-4.3M1325.35 829.3v4.3M1324.7 829h-4.3M1390.23 829.3v4.3M1324.7 782.4h-4.3M1455.12 829.3v4.3M1324.7 735.8h-4.3M1520 829.3v4.3M1324.7 689.2h-4.3" stroke="#585858" stroke-width="1.3" fill="none"/>
<text class="tk" x="1130.7" y="848.5" text-anchor="middle">-3</text>
<text class="tk" x="1316.1" y="972" text-anchor="end">-3</text>
<text class="tk" x="1195.58" y="848.5" text-anchor="middle">-2</text>
<text class="tk" x="1316.1" y="925.4" text-anchor="end">-2</text>
<text class="tk" x="1260.47" y="848.5" text-anchor="middle">-1</text>
<text class="tk" x="1316.1" y="878.8" text-anchor="end">-1</text>
<text class="tk" x="1325.35" y="848.5" text-anchor="middle">0</text>
<text class="tk" x="1316.1" y="832.2" text-anchor="end">0</text>
<text class="tk" x="1390.23" y="848.5" text-anchor="middle">1</text>
<text class="tk" x="1316.1" y="785.6" text-anchor="end">1</text>
<text class="tk" x="1455.12" y="848.5" text-anchor="middle">2</text>
<text class="tk" x="1316.1" y="739" text-anchor="end">2</text>
<text class="tk" x="1520" y="848.5" text-anchor="middle">3</text>
<text class="tk" x="1316.1" y="692.4" text-anchor="end">3</text>
<path d="M1184.2 786.4L1457.3 870" stroke="#000" stroke-width="1.1" fill="none"/>
<path d="M1261 712.7a3.4 3.4 0 1 0 6.8 0a3.4 3.4 0 1 0 -6.8 0M1260.2 748.9a3.4 3.4 0 1 0 6.8 0a3.4 3.4 0 1 0 -6.8 0M1288.4 748.2a3.4 3.4 0 1 0 6.8 0a3.4 3.4 0 1 0 -6.8 0M1308.4 748.2a3.4 3.4 0 1 0 6.8 0a3.4 3.4 0 1 0 -6.8 0M1276.1 755.5a3.4 3.4 0 1 0 6.8 0a3.4 3.4 0 1 0 -6.8 0M1281.1 757.5a3.4 3.4 0 1 0 6.8 0a3.4 3.4 0 1 0 -6.8 0M1180.2 762.5a3.4 3.4 0 1 0 6.8 0a3.4 3.4 0 1 0 -6.8 0M1317.3 763a3.4 3.4 0 1 0 6.8 0a3.4 3.4 0 1 0 -6.8 0M1303.7 769.4a3.4 3.4 0 1 0 6.8 0a3.4 3.4 0 1 0 -6.8 0M1320.4 770.5a3.4 3.4 0 1 0 6.8 0a3.4 3.4 0 1 0 -6.8 0M1224.3 770a3.4 3.4 0 1 0 6.8 0a3.4 3.4 0 1 0 -6.8 0M1239.3 771.2a3.4 3.4 0 1 0 6.8 0a3.4 3.4 0 1 0 -6.8 0M1212.7 777.9a3.4 3.4 0 1 0 6.8 0a3.4 3.4 0 1 0 -6.8 0M1202.7 782.3a3.4 3.4 0 1 0 6.8 0a3.4 3.4 0 1 0 -6.8 0M1248 781.2a3.4 3.4 0 1 0 6.8 0a3.4 3.4 0 1 0 -6.8 0M1253.2 789.5a3.4 3.4 0 1 0 6.8 0a3.4 3.4 0 1 0 -6.8 0M1292.3 785.7a3.4 3.4 0 1 0 6.8 0a3.4 3.4 0 1 0 -6.8 0M1308.4 795.7a3.4 3.4 0 1 0 6.8 0a3.4 3.4 0 1 0 -6.8 0M1313 795.9a3.4 3.4 0 1 0 6.8 0a3.4 3.4 0 1 0 -6.8 0M1318.9 799.1a3.4 3.4 0 1 0 6.8 0a3.4 3.4 0 1 0 -6.8 0M1325.7 766.1a3.4 3.4 0 1 0 6.8 0a3.4 3.4 0 1 0 -6.8 0M1333.7 760.5a3.4 3.4 0 1 0 6.8 0a3.4 3.4 0 1 0 -6.8 0M1366.1 780.6a3.4 3.4 0 1 0 6.8 0a3.4 3.4 0 1 0 -6.8 0M1375.7 788.2a3.4 3.4 0 1 0 6.8 0a3.4 3.4 0 1 0 -6.8 0M1337.3 797.3a3.4 3.4 0 1 0 6.8 0a3.4 3.4 0 1 0 -6.8 0M1345 793.9a3.4 3.4 0 1 0 6.8 0a3.4 3.4 0 1 0 -6.8 0M1351.6 797a3.4 3.4 0 1 0 6.8 0a3.4 3.4 0 1 0 -6.8 0M1361.1 799.1a3.4 3.4 0 1 0 6.8 0a3.4 3.4 0 1 0 -6.8 0M1271.1 803.2a3.4 3.4 0 1 0 6.8 0a3.4 3.4 0 1 0 -6.8 0M1301.6 805.7a3.4 3.4 0 1 0 6.8 0a3.4 3.4 0 1 0 -6.8 0M1306.6 809.5a3.4 3.4 0 1 0 6.8 0a3.4 3.4 0 1 0 -6.8 0M1304.8 814.1a3.4 3.4 0 1 0 6.8 0a3.4 3.4 0 1 0 -6.8 0M1310.2 819.1a3.4 3.4 0 1 0 6.8 0a3.4 3.4 0 1 0 -6.8 0M1313 821.4a3.4 3.4 0 1 0 6.8 0a3.4 3.4 0 1 0 -6.8 0M1324.3 806.4a3.4 3.4 0 1 0 6.8 0a3.4 3.4 0 1 0 -6.8 0M1271.1 824.3a3.4 3.4 0 1 0 6.8 0a3.4 3.4 0 1 0 -6.8 0M1322.1 826.4a3.4 3.4 0 1 0 6.8 0a3.4 3.4 0 1 0 -6.8 0M1323.9 828.6a3.4 3.4 0 1 0 6.8 0a3.4 3.4 0 1 0 -6.8 0M1312.5 829.5a3.4 3.4 0 1 0 6.8 0a3.4 3.4 0 1 0 -6.8 0M1313 833.2a3.4 3.4 0 1 0 6.8 0a3.4 3.4 0 1 0 -6.8 0M1313.9 836.8a3.4 3.4 0 1 0 6.8 0a3.4 3.4 0 1 0 -6.8 0M1313 840.5a3.4 3.4 0 1 0 6.8 0a3.4 3.4 0 1 0 -6.8 0M1312.1 844.1a3.4 3.4 0 1 0 6.8 0a3.4 3.4 0 1 0 -6.8 0M1312.5 848.2a3.4 3.4 0 1 0 6.8 0a3.4 3.4 0 1 0 -6.8 0M1318 835.9a3.4 3.4 0 1 0 6.8 0a3.4 3.4 0 1 0 -6.8 0M1224.3 843.2a3.4 3.4 0 1 0 6.8 0a3.4 3.4 0 1 0 -6.8 0M1271.1 842.3a3.4 3.4 0 1 0 6.8 0a3.4 3.4 0 1 0 -6.8 0M1294.3 849.4a3.4 3.4 0 1 0 6.8 0a3.4 3.4 0 1 0 -6.8 0M1302.5 852.3a3.4 3.4 0 1 0 6.8 0a3.4 3.4 0 1 0 -6.8 0M1305.7 855.5a3.4 3.4 0 1 0 6.8 0a3.4 3.4 0 1 0 -6.8 0M1302.1 856.8a3.4 3.4 0 1 0 6.8 0a3.4 3.4 0 1 0 -6.8 0M1222.1 855.7a3.4 3.4 0 1 0 6.8 0a3.4 3.4 0 1 0 -6.8 0M1276.6 857.7a3.4 3.4 0 1 0 6.8 0a3.4 3.4 0 1 0 -6.8 0M1279.8 863.2a3.4 3.4 0 1 0 6.8 0a3.4 3.4 0 1 0 -6.8 0M1312.7 860.9a3.4 3.4 0 1 0 6.8 0a3.4 3.4 0 1 0 -6.8 0M1319.8 863.2a3.4 3.4 0 1 0 6.8 0a3.4 3.4 0 1 0 -6.8 0M1301.3 863.6a3.4 3.4 0 1 0 6.8 0a3.4 3.4 0 1 0 -6.8 0M1214.1 863.6a3.4 3.4 0 1 0 6.8 0a3.4 3.4 0 1 0 -6.8 0M1255.5 864.1a3.4 3.4 0 1 0 6.8 0a3.4 3.4 0 1 0 -6.8 0M1180.2 867.5a3.4 3.4 0 1 0 6.8 0a3.4 3.4 0 1 0 -6.8 0M1320.2 871.8a3.4 3.4 0 1 0 6.8 0a3.4 3.4 0 1 0 -6.8 0M1325.7 877.3a3.4 3.4 0 1 0 6.8 0a3.4 3.4 0 1 0 -6.8 0M1288 877.7a3.4 3.4 0 1 0 6.8 0a3.4 3.4 0 1 0 -6.8 0M1351 811.2a3.4 3.4 0 1 0 6.8 0a3.4 3.4 0 1 0 -6.8 0M1330.4 824.5a3.4 3.4 0 1 0 6.8 0a3.4 3.4 0 1 0 -6.8 0M1337.3 829.5a3.4 3.4 0 1 0 6.8 0a3.4 3.4 0 1 0 -6.8 0M1396.1 827.3a3.4 3.4 0 1 0 6.8 0a3.4 3.4 0 1 0 -6.8 0M1360.2 830.9a3.4 3.4 0 1 0 6.8 0a3.4 3.4 0 1 0 -6.8 0M1366.1 833.2a3.4 3.4 0 1 0 6.8 0a3.4 3.4 0 1 0 -6.8 0M1381.1 834.1a3.4 3.4 0 1 0 6.8 0a3.4 3.4 0 1 0 -6.8 0M1393 834.1a3.4 3.4 0 1 0 6.8 0a3.4 3.4 0 1 0 -6.8 0M1343.9 835.5a3.4 3.4 0 1 0 6.8 0a3.4 3.4 0 1 0 -6.8 0M1349.3 834.1a3.4 3.4 0 1 0 6.8 0a3.4 3.4 0 1 0 -6.8 0M1349.8 838.6a3.4 3.4 0 1 0 6.8 0a3.4 3.4 0 1 0 -6.8 0M1363 841.4a3.4 3.4 0 1 0 6.8 0a3.4 3.4 0 1 0 -6.8 0M1356.6 845a3.4 3.4 0 1 0 6.8 0a3.4 3.4 0 1 0 -6.8 0M1362.5 846.4a3.4 3.4 0 1 0 6.8 0a3.4 3.4 0 1 0 -6.8 0M1332.1 846.4a3.4 3.4 0 1 0 6.8 0a3.4 3.4 0 1 0 -6.8 0M1410.7 849.5a3.4 3.4 0 1 0 6.8 0a3.4 3.4 0 1 0 -6.8 0M1400.2 853.2a3.4 3.4 0 1 0 6.8 0a3.4 3.4 0 1 0 -6.8 0M1383 855a3.4 3.4 0 1 0 6.8 0a3.4 3.4 0 1 0 -6.8 0M1342.1 861.4a3.4 3.4 0 1 0 6.8 0a3.4 3.4 0 1 0 -6.8 0M1340.2 865.5a3.4 3.4 0 1 0 6.8 0a3.4 3.4 0 1 0 -6.8 0M1406.6 862.3a3.4 3.4 0 1 0 6.8 0a3.4 3.4 0 1 0 -6.8 0M1410.2 866.8a3.4 3.4 0 1 0 6.8 0a3.4 3.4 0 1 0 -6.8 0M1357.5 866.8a3.4 3.4 0 1 0 6.8 0a3.4 3.4 0 1 0 -6.8 0M1358.9 868.2a3.4 3.4 0 1 0 6.8 0a3.4 3.4 0 1 0 -6.8 0M1332.5 868.2a3.4 3.4 0 1 0 6.8 0a3.4 3.4 0 1 0 -6.8 0M1400.2 872.7a3.4 3.4 0 1 0 6.8 0a3.4 3.4 0 1 0 -6.8 0M1385.2 872.3a3.4 3.4 0 1 0 6.8 0a3.4 3.4 0 1 0 -6.8 0M1383 876.4a3.4 3.4 0 1 0 6.8 0a3.4 3.4 0 1 0 -6.8 0M1392.8 874.1a3.4 3.4 0 1 0 6.8 0a3.4 3.4 0 1 0 -6.8 0M1455 873.4a3.4 3.4 0 1 0 6.8 0a3.4 3.4 0 1 0 -6.8 0M1354.8 877.3a3.4 3.4 0 1 0 6.8 0a3.4 3.4 0 1 0 -6.8 0M1376.4 879.4a3.4 3.4 0 1 0 6.8 0a3.4 3.4 0 1 0 -6.8 0M1421.8 885.2a3.4 3.4 0 1 0 6.8 0a3.4 3.4 0 1 0 -6.8 0M1351.4 887.3a3.4 3.4 0 1 0 6.8 0a3.4 3.4 0 1 0 -6.8 0M1363.4 892.7a3.4 3.4 0 1 0 6.8 0a3.4 3.4 0 1 0 -6.8 0" fill="#000"/>
<text class="lab" x="1132.1" y="684.5">c.3)</text>
<text class="tt" x="1331.7" y="683.8" textLength="103.8" lengthAdjust="spacingAndGlyphs">Flight activity</text>
<text class="tt" x="1468.1" y="866" textLength="178.1" lengthAdjust="spacingAndGlyphs">Time at feeding station</text>
<path d="M13.1 1157.9H409.6M212.5 1019.5V1296.4" stroke="#505050" stroke-width="1.4" fill="none"/>
<path d="M13.1 1157.9v4.3M212.5 1296.4h-4.3M79.18 1157.9v4.3M212.5 1250.25h-4.3M145.27 1157.9v4.3M212.5 1204.1h-4.3M211.35 1157.9v4.3M212.5 1157.95h-4.3M277.43 1157.9v4.3M212.5 1111.8h-4.3M343.52 1157.9v4.3M212.5 1065.65h-4.3M409.6 1157.9v4.3M212.5 1019.5h-4.3" stroke="#505050" stroke-width="1.3" fill="none"/>
<text class="tk" x="11.1" y="1177.1" text-anchor="middle">-1.5</text>
<text class="tk" x="203.9" y="1299.6" text-anchor="end">-1.5</text>
<text class="tk" x="79.18" y="1177.1" text-anchor="middle">-1.0</text>
<text class="tk" x="203.9" y="1253.45" text-anchor="end">-1.0</text>
<text class="tk" x="145.27" y="1177.1" text-anchor="middle">-0.5</text>
<text class="tk" x="203.9" y="1207.3" text-anchor="end">-0.5</text>
<text class="tk" x="211.35" y="1177.1" text-anchor="middle">0.0</text>
<text class="tk" x="203.9" y="1161.15" text-anchor="end">0.0</text>
<text class="tk" x="277.43" y="1177.1" text-anchor="middle">0.5</text>
<text class="tk" x="203.9" y="1115" text-anchor="end">0.5</text>
<text class="tk" x="343.52" y="1177.1" text-anchor="middle">1.0</text>
<text class="tk" x="203.9" y="1068.85" text-anchor="end">1.0</text>
<text class="tk" x="409.6" y="1177.1" text-anchor="middle">1.5</text>
<text class="tk" x="203.9" y="1022.7" text-anchor="end">1.5</text>
<path d="M119.8 1032.6a3.4 3.4 0 1 0 6.8 0a3.4 3.4 0 1 0 -6.8 0M191 1029.2a3.4 3.4 0 1 0 6.8 0a3.4 3.4 0 1 0 -6.8 0M319.2 1021.6a3.4 3.4 0 1 0 6.8 0a3.4 3.4 0 1 0 -6.8 0M258 1063.4a3.4 3.4 0 1 0 6.8 0a3.4 3.4 0 1 0 -6.8 0M352.8 1090.6a3.4 3.4 0 1 0 6.8 0a3.4 3.4 0 1 0 -6.8 0M371.8 1112.6a3.4 3.4 0 1 0 6.8 0a3.4 3.4 0 1 0 -6.8 0M115 1099.4a3.4 3.4 0 1 0 6.8 0a3.4 3.4 0 1 0 -6.8 0M139.2 1106.2a3.4 3.4 0 1 0 6.8 0a3.4 3.4 0 1 0 -6.8 0M124 1113.4a3.4 3.4 0 1 0 6.8 0a3.4 3.4 0 1 0 -6.8 0M99.8 1121a3.4 3.4 0 1 0 6.8 0a3.4 3.4 0 1 0 -6.8 0" fill="#000"/>
<text class="lab" x="12.7" y="1013.4">d.1)</text>
<text class="tt" x="221.2" y="1012.9" textLength="126.2" lengthAdjust="spacingAndGlyphs">Home range size</text>
<text class="tt" x="347.4" y="1199.3" textLength="178.2" lengthAdjust="spacingAndGlyphs">Time at feeding station</text>
<path d="M556.7 1159.2H953M756 1020.3V1298.6" stroke="#585858" stroke-width="1.5" fill="none"/>
<path d="M556.7 1159.2v4.3M756 1298.6h-4.3M622.75 1159.2v4.3M756 1252.22h-4.3M688.8 1159.2v4.3M756 1205.83h-4.3M754.85 1159.2v4.3M756 1159.45h-4.3M820.9 1159.2v4.3M756 1113.07h-4.3M886.95 1159.2v4.3M756 1066.68h-4.3M953 1159.2v4.3M756 1020.3h-4.3" stroke="#585858" stroke-width="1.3" fill="none"/>
<text class="tk" x="556.7" y="1178.4" text-anchor="middle">-3</text>
<text class="tk" x="747.4" y="1301.8" text-anchor="end">-3</text>
<text class="tk" x="622.75" y="1178.4" text-anchor="middle">-2</text>
<text class="tk" x="747.4" y="1255.42" text-anchor="end">-2</text>
<text class="tk" x="688.8" y="1178.4" text-anchor="middle">-1</text>
<text class="tk" x="747.4" y="1209.03" text-anchor="end">-1</text>
<text class="tk" x="754.85" y="1178.4" text-anchor="middle">0</text>
<text class="tk" x="747.4" y="1162.65" text-anchor="end">0</text>
<text class="tk" x="820.9" y="1178.4" text-anchor="middle">1</text>
<text class="tk" x="747.4" y="1116.27" text-anchor="end">1</text>
<text class="tk" x="886.95" y="1178.4" text-anchor="middle">2</text>
<text class="tk" x="747.4" y="1069.88" text-anchor="end">2</text>
<text class="tk" x="953" y="1178.4" text-anchor="middle">3</text>
<text class="tk" x="747.4" y="1023.5" text-anchor="end">3</text>
<path d="M725.9 1083.8a3.4 3.4 0 1 0 6.8 0a3.4 3.4 0 1 0 -6.8 0M742.1 1094a3.4 3.4 0 1 0 6.8 0a3.4 3.4 0 1 0 -6.8 0M693 1102a3.4 3.4 0 1 0 6.8 0a3.4 3.4 0 1 0 -6.8 0M724.8 1103.8a3.4 3.4 0 1 0 6.8 0a3.4 3.4 0 1 0 -6.8 0M645.1 1110.9a3.4 3.4 0 1 0 6.8 0a3.4 3.4 0 1 0 -6.8 0M687.5 1118a3.4 3.4 0 1 0 6.8 0a3.4 3.4 0 1 0 -6.8 0M732.2 1116.9a3.4 3.4 0 1 0 6.8 0a3.4 3.4 0 1 0 -6.8 0M694.1 1126.4a3.4 3.4 0 1 0 6.8 0a3.4 3.4 0 1 0 -6.8 0M700.1 1126.4a3.4 3.4 0 1 0 6.8 0a3.4 3.4 0 1 0 -6.8 0M740.8 1124a3.4 3.4 0 1 0 6.8 0a3.4 3.4 0 1 0 -6.8 0M746.4 1126.7a3.4 3.4 0 1 0 6.8 0a3.4 3.4 0 1 0 -6.8 0M749.3 1130.4a3.4 3.4 0 1 0 6.8 0a3.4 3.4 0 1 0 -6.8 0M753 1131.1a3.4 3.4 0 1 0 6.8 0a3.4 3.4 0 1 0 -6.8 0M711 1131.8a3.4 3.4 0 1 0 6.8 0a3.4 3.4 0 1 0 -6.8 0M721 1129.8a3.4 3.4 0 1 0 6.8 0a3.4 3.4 0 1 0 -6.8 0M734.6 1130.2a3.4 3.4 0 1 0 6.8 0a3.4 3.4 0 1 0 -6.8 0M744.6 1136.5a3.4 3.4 0 1 0 6.8 0a3.4 3.4 0 1 0 -6.8 0M742.1 1139.8a3.4 3.4 0 1 0 6.8 0a3.4 3.4 0 1 0 -6.8 0M738.4 1142.7a3.4 3.4 0 1 0 6.8 0a3.4 3.4 0 1 0 -6.8 0M741.3 1145.6a3.4 3.4 0 1 0 6.8 0a3.4 3.4 0 1 0 -6.8 0M727.5 1142.7a3.4 3.4 0 1 0 6.8 0a3.4 3.4 0 1 0 -6.8 0M718.6 1145.3a3.4 3.4 0 1 0 6.8 0a3.4 3.4 0 1 0 -6.8 0M703.5 1148.2a3.4 3.4 0 1 0 6.8 0a3.4 3.4 0 1 0 -6.8 0M708.6 1150a3.4 3.4 0 1 0 6.8 0a3.4 3.4 0 1 0 -6.8 0M683.5 1148.2a3.4 3.4 0 1 0 6.8 0a3.4 3.4 0 1 0 -6.8 0M733.3 1147.5a3.4 3.4 0 1 0 6.8 0a3.4 3.4 0 1 0 -6.8 0M735.9 1150.7a3.4 3.4 0 1 0 6.8 0a3.4 3.4 0 1 0 -6.8 0M745.7 1151.5a3.4 3.4 0 1 0 6.8 0a3.4 3.4 0 1 0 -6.8 0M751.9 1150.7a3.4 3.4 0 1 0 6.8 0a3.4 3.4 0 1 0 -6.8 0M640.6 1155.8a3.4 3.4 0 1 0 6.8 0a3.4 3.4 0 1 0 -6.8 0M717 1156.5a3.4 3.4 0 1 0 6.8 0a3.4 3.4 0 1 0 -6.8 0M790.6 1074a3.4 3.4 0 1 0 6.8 0a3.4 3.4 0 1 0 -6.8 0M778 1093.7a3.4 3.4 0 1 0 6.8 0a3.4 3.4 0 1 0 -6.8 0M790.6 1097.6a3.4 3.4 0 1 0 6.8 0a3.4 3.4 0 1 0 -6.8 0M809.8 1096.8a3.4 3.4 0 1 0 6.8 0a3.4 3.4 0 1 0 -6.8 0M809.8 1103.9a3.4 3.4 0 1 0 6.8 0a3.4 3.4 0 1 0 -6.8 0M772 1102.8a3.4 3.4 0 1 0 6.8 0a3.4 3.4 0 1 0 -6.8 0M782.2 1112a3.4 3.4 0 1 0 6.8 0a3.4 3.4 0 1 0 -6.8 0M798 1118.8a3.4 3.4 0 1 0 6.8 0a3.4 3.4 0 1 0 -6.8 0M759.5 1121.5a3.4 3.4 0 1 0 6.8 0a3.4 3.4 0 1 0 -6.8 0M757.9 1129.1a3.4 3.4 0 1 0 6.8 0a3.4 3.4 0 1 0 -6.8 0M766.2 1128.7a3.4 3.4 0 1 0 6.8 0a3.4 3.4 0 1 0 -6.8 0M766.2 1133.9a3.4 3.4 0 1 0 6.8 0a3.4 3.4 0 1 0 -6.8 0M782.7 1130.9a3.4 3.4 0 1 0 6.8 0a3.4 3.4 0 1 0 -6.8 0M801.9 1132.5a3.4 3.4 0 1 0 6.8 0a3.4 3.4 0 1 0 -6.8 0M809.8 1133.2a3.4 3.4 0 1 0 6.8 0a3.4 3.4 0 1 0 -6.8 0M747.6 1127a3.4 3.4 0 1 0 6.8 0a3.4 3.4 0 1 0 -6.8 0M765.5 1143.5a3.4 3.4 0 1 0 6.8 0a3.4 3.4 0 1 0 -6.8 0M800.2 1144.9a3.4 3.4 0 1 0 6.8 0a3.4 3.4 0 1 0 -6.8 0M802.6 1146.9a3.4 3.4 0 1 0 6.8 0a3.4 3.4 0 1 0 -6.8 0M817.2 1143.1a3.4 3.4 0 1 0 6.8 0a3.4 3.4 0 1 0 -6.8 0M762.5 1150.5a3.4 3.4 0 1 0 6.8 0a3.4 3.4 0 1 0 -6.8 0M780.7 1153a3.4 3.4 0 1 0 6.8 0a3.4 3.4 0 1 0 -6.8 0M821.6 1157.9a3.4 3.4 0 1 0 6.8 0a3.4 3.4 0 1 0 -6.8 0M753.1 1160a3.4 3.4 0 1 0 6.8 0a3.4 3.4 0 1 0 -6.8 0M699.7 1161.5a3.4 3.4 0 1 0 6.8 0a3.4 3.4 0 1 0 -6.8 0M690.3 1165.5a3.4 3.4 0 1 0 6.8 0a3.4 3.4 0 1 0 -6.8 0M698.8 1168.1a3.4 3.4 0 1 0 6.8 0a3.4 3.4 0 1 0 -6.8 0M721.3 1161.5a3.4 3.4 0 1 0 6.8 0a3.4 3.4 0 1 0 -6.8 0M718.1 1164.1a3.4 3.4 0 1 0 6.8 0a3.4 3.4 0 1 0 -6.8 0M728.2 1163.4a3.4 3.4 0 1 0 6.8 0a3.4 3.4 0 1 0 -6.8 0M734.4 1163.4a3.4 3.4 0 1 0 6.8 0a3.4 3.4 0 1 0 -6.8 0M715 1171.1a3.4 3.4 0 1 0 6.8 0a3.4 3.4 0 1 0 -6.8 0M726.6 1172.6a3.4 3.4 0 1 0 6.8 0a3.4 3.4 0 1 0 -6.8 0M735.5 1172.5a3.4 3.4 0 1 0 6.8 0a3.4 3.4 0 1 0 -6.8 0M735.1 1179a3.4 3.4 0 1 0 6.8 0a3.4 3.4 0 1 0 -6.8 0M673.3 1176.2a3.4 3.4 0 1 0 6.8 0a3.4 3.4 0 1 0 -6.8 0M720.6 1189.5a3.4 3.4 0 1 0 6.8 0a3.4 3.4 0 1 0 -6.8 0M724.6 1193.2a3.4 3.4 0 1 0 6.8 0a3.4 3.4 0 1 0 -6.8 0M736.6 1188.8a3.4 3.4 0 1 0 6.8 0a3.4 3.4 0 1 0 -6.8 0M741.7 1190.3a3.4 3.4 0 1 0 6.8 0a3.4 3.4 0 1 0 -6.8 0M732.6 1199a3.4 3.4 0 1 0 6.8 0a3.4 3.4 0 1 0 -6.8 0M720.6 1200.1a3.4 3.4 0 1 0 6.8 0a3.4 3.4 0 1 0 -6.8 0M719 1205.2a3.4 3.4 0 1 0 6.8 0a3.4 3.4 0 1 0 -6.8 0M672.6 1207.7a3.4 3.4 0 1 0 6.8 0a3.4 3.4 0 1 0 -6.8 0M753.3 1206.3a3.4 3.4 0 1 0 6.8 0a3.4 3.4 0 1 0 -6.8 0M732.6 1212.1a3.4 3.4 0 1 0 6.8 0a3.4 3.4 0 1 0 -6.8 0M737.7 1210.3a3.4 3.4 0 1 0 6.8 0a3.4 3.4 0 1 0 -6.8 0M741.3 1209.2a3.4 3.4 0 1 0 6.8 0a3.4 3.4 0 1 0 -6.8 0M752.2 1215.4a3.4 3.4 0 1 0 6.8 0a3.4 3.4 0 1 0 -6.8 0M745.2 1221.2a3.4 3.4 0 1 0 6.8 0a3.4 3.4 0 1 0 -6.8 0M647.9 1223.4a3.4 3.4 0 1 0 6.8 0a3.4 3.4 0 1 0 -6.8 0M766.5 1170.5a3.4 3.4 0 1 0 6.8 0a3.4 3.4 0 1 0 -6.8 0M769.6 1172.5a3.4 3.4 0 1 0 6.8 0a3.4 3.4 0 1 0 -6.8 0M786.1 1175.1a3.4 3.4 0 1 0 6.8 0a3.4 3.4 0 1 0 -6.8 0M776.8 1180.3a3.4 3.4 0 1 0 6.8 0a3.4 3.4 0 1 0 -6.8 0M800.2 1173.9a3.4 3.4 0 1 0 6.8 0a3.4 3.4 0 1 0 -6.8 0M800.2 1180.4a3.4 3.4 0 1 0 6.8 0a3.4 3.4 0 1 0 -6.8 0M807 1176.3a3.4 3.4 0 1 0 6.8 0a3.4 3.4 0 1 0 -6.8 0M810.1 1173.5a3.4 3.4 0 1 0 6.8 0a3.4 3.4 0 1 0 -6.8 0M787.1 1187.6a3.4 3.4 0 1 0 6.8 0a3.4 3.4 0 1 0 -6.8 0M790.6 1185.9a3.4 3.4 0 1 0 6.8 0a3.4 3.4 0 1 0 -6.8 0M794.7 1193.5a3.4 3.4 0 1 0 6.8 0a3.4 3.4 0 1 0 -6.8 0M800.2 1193.8a3.4 3.4 0 1 0 6.8 0a3.4 3.4 0 1 0 -6.8 0M800.5 1196.2a3.4 3.4 0 1 0 6.8 0a3.4 3.4 0 1 0 -6.8 0M826.6 1192.6a3.4 3.4 0 1 0 6.8 0a3.4 3.4 0 1 0 -6.8 0M837.3 1190.7a3.4 3.4 0 1 0 6.8 0a3.4 3.4 0 1 0 -6.8 0M769.3 1196.6a3.4 3.4 0 1 0 6.8 0a3.4 3.4 0 1 0 -6.8 0M790.9 1206.5a3.4 3.4 0 1 0 6.8 0a3.4 3.4 0 1 0 -6.8 0M790.6 1215.3a3.4 3.4 0 1 0 6.8 0a3.4 3.4 0 1 0 -6.8 0M766.5 1224a3.4 3.4 0 1 0 6.8 0a3.4 3.4 0 1 0 -6.8 0M770.3 1227.5a3.4 3.4 0 1 0 6.8 0a3.4 3.4 0 1 0 -6.8 0M798 1226.8a3.4 3.4 0 1 0 6.8 0a3.4 3.4 0 1 0 -6.8 0M790.6 1234.7a3.4 3.4 0 1 0 6.8 0a3.4 3.4 0 1 0 -6.8 0" fill="#000"/>
<text class="lab" x="557.1" y="1014">d.2)</text>
<text class="tt" x="767.8" y="1015.5" textLength="125.9" lengthAdjust="spacingAndGlyphs">Home range size</text>
<text class="tt" x="891.8" y="1199.3" textLength="177.8" lengthAdjust="spacingAndGlyphs">Time at feeding station</text>
<path d="M1130.7 1159.6H1520M1324.8 1019.5V1299.9" stroke="#585858" stroke-width="1.5" fill="none"/>
<path d="M1130.7 1159.6v4.3M1324.8 1299.9h-4.3M1195.58 1159.6v4.3M1324.8 1253.17h-4.3M1260.47 1159.6v4.3M1324.8 1206.43h-4.3M1325.35 1159.6v4.3M1324.8 1159.7h-4.3M1390.23 1159.6v4.3M1324.8 1112.97h-4.3M1455.12 1159.6v4.3M1324.8 1066.23h-4.3M1520 1159.6v4.3M1324.8 1019.5h-4.3" stroke="#585858" stroke-width="1.3" fill="none"/>
<text class="tk" x="1130.7" y="1178.8" text-anchor="middle">-3</text>
<text class="tk" x="1316.2" y="1303.1" text-anchor="end">-3</text>
<text class="tk" x="1195.58" y="1178.8" text-anchor="middle">-2</text>
<text class="tk" x="1316.2" y="1256.37" text-anchor="end">-2</text>
<text class="tk" x="1260.47" y="1178.8" text-anchor="middle">-1</text>
<text class="tk" x="1316.2" y="1209.63" text-anchor="end">-1</text>
<text class="tk" x="1325.35" y="1178.8" text-anchor="middle">0</text>
<text class="tk" x="1316.2" y="1162.9" text-anchor="end">0</text>
<text class="tk" x="1390.23" y="1178.8" text-anchor="middle">1</text>
<text class="tk" x="1316.2" y="1116.17" text-anchor="end">1</text>
<text class="tk" x="1455.12" y="1178.8" text-anchor="middle">2</text>
<text class="tk" x="1316.2" y="1069.43" text-anchor="end">2</text>
<text class="tk" x="1520" y="1178.8" text-anchor="middle">3</text>
<text class="tk" x="1316.2" y="1022.7" text-anchor="end">3</text>
<path d="M1240.5 1134.3L1433.2 1192" stroke="#000" stroke-width="1.1" fill="none"/>
<path d="M1271.3 1061.8a3.4 3.4 0 1 0 6.8 0a3.4 3.4 0 1 0 -6.8 0M1282.9 1084.7a3.4 3.4 0 1 0 6.8 0a3.4 3.4 0 1 0 -6.8 0M1302.1 1085.9a3.4 3.4 0 1 0 6.8 0a3.4 3.4 0 1 0 -6.8 0M1263.7 1091.3a3.4 3.4 0 1 0 6.8 0a3.4 3.4 0 1 0 -6.8 0M1278.7 1100.7a3.4 3.4 0 1 0 6.8 0a3.4 3.4 0 1 0 -6.8 0M1263.7 1103.9a3.4 3.4 0 1 0 6.8 0a3.4 3.4 0 1 0 -6.8 0M1306.6 1103.1a3.4 3.4 0 1 0 6.8 0a3.4 3.4 0 1 0 -6.8 0M1237 1110.2a3.4 3.4 0 1 0 6.8 0a3.4 3.4 0 1 0 -6.8 0M1247.6 1114.2a3.4 3.4 0 1 0 6.8 0a3.4 3.4 0 1 0 -6.8 0M1273 1111.4a3.4 3.4 0 1 0 6.8 0a3.4 3.4 0 1 0 -6.8 0M1282.9 1115.5a3.4 3.4 0 1 0 6.8 0a3.4 3.4 0 1 0 -6.8 0M1282.5 1119.5a3.4 3.4 0 1 0 6.8 0a3.4 3.4 0 1 0 -6.8 0M1275.5 1121.9a3.4 3.4 0 1 0 6.8 0a3.4 3.4 0 1 0 -6.8 0M1273 1128.8a3.4 3.4 0 1 0 6.8 0a3.4 3.4 0 1 0 -6.8 0M1287.3 1127.6a3.4 3.4 0 1 0 6.8 0a3.4 3.4 0 1 0 -6.8 0M1303.7 1125.5a3.4 3.4 0 1 0 6.8 0a3.4 3.4 0 1 0 -6.8 0M1306.6 1134.8a3.4 3.4 0 1 0 6.8 0a3.4 3.4 0 1 0 -6.8 0M1319 1141.2a3.4 3.4 0 1 0 6.8 0a3.4 3.4 0 1 0 -6.8 0M1320.2 1146.8a3.4 3.4 0 1 0 6.8 0a3.4 3.4 0 1 0 -6.8 0M1263.5 1141.6a3.4 3.4 0 1 0 6.8 0a3.4 3.4 0 1 0 -6.8 0M1266.7 1150a3.4 3.4 0 1 0 6.8 0a3.4 3.4 0 1 0 -6.8 0M1273 1151.8a3.4 3.4 0 1 0 6.8 0a3.4 3.4 0 1 0 -6.8 0M1282.9 1150a3.4 3.4 0 1 0 6.8 0a3.4 3.4 0 1 0 -6.8 0M1286.1 1149a3.4 3.4 0 1 0 6.8 0a3.4 3.4 0 1 0 -6.8 0M1296.1 1154.4a3.4 3.4 0 1 0 6.8 0a3.4 3.4 0 1 0 -6.8 0M1303.3 1151.6a3.4 3.4 0 1 0 6.8 0a3.4 3.4 0 1 0 -6.8 0M1319.4 1158a3.4 3.4 0 1 0 6.8 0a3.4 3.4 0 1 0 -6.8 0M1339.6 1095.2a3.4 3.4 0 1 0 6.8 0a3.4 3.4 0 1 0 -6.8 0M1327.5 1105.3a3.4 3.4 0 1 0 6.8 0a3.4 3.4 0 1 0 -6.8 0M1330 1109.2a3.4 3.4 0 1 0 6.8 0a3.4 3.4 0 1 0 -6.8 0M1335.9 1112.7a3.4 3.4 0 1 0 6.8 0a3.4 3.4 0 1 0 -6.8 0M1351 1112.4a3.4 3.4 0 1 0 6.8 0a3.4 3.4 0 1 0 -6.8 0M1330.7 1117.5a3.4 3.4 0 1 0 6.8 0a3.4 3.4 0 1 0 -6.8 0M1334.1 1120.7a3.4 3.4 0 1 0 6.8 0a3.4 3.4 0 1 0 -6.8 0M1345.2 1133.9a3.4 3.4 0 1 0 6.8 0a3.4 3.4 0 1 0 -6.8 0M1339.4 1138.1a3.4 3.4 0 1 0 6.8 0a3.4 3.4 0 1 0 -6.8 0M1338 1141.2a3.4 3.4 0 1 0 6.8 0a3.4 3.4 0 1 0 -6.8 0M1353 1141.2a3.4 3.4 0 1 0 6.8 0a3.4 3.4 0 1 0 -6.8 0M1336.8 1149.2a3.4 3.4 0 1 0 6.8 0a3.4 3.4 0 1 0 -6.8 0M1398.3 1146.1a3.4 3.4 0 1 0 6.8 0a3.4 3.4 0 1 0 -6.8 0M1398.6 1153.8a3.4 3.4 0 1 0 6.8 0a3.4 3.4 0 1 0 -6.8 0M1351.4 1155.2a3.4 3.4 0 1 0 6.8 0a3.4 3.4 0 1 0 -6.8 0M1423 1159.3a3.4 3.4 0 1 0 6.8 0a3.4 3.4 0 1 0 -6.8 0M1273.2 1165.4a3.4 3.4 0 1 0 6.8 0a3.4 3.4 0 1 0 -6.8 0M1290.8 1165.2a3.4 3.4 0 1 0 6.8 0a3.4 3.4 0 1 0 -6.8 0M1252.8 1167.9a3.4 3.4 0 1 0 6.8 0a3.4 3.4 0 1 0 -6.8 0M1306.8 1166.4a3.4 3.4 0 1 0 6.8 0a3.4 3.4 0 1 0 -6.8 0M1307.8 1169.2a3.4 3.4 0 1 0 6.8 0a3.4 3.4 0 1 0 -6.8 0M1315 1167.5a3.4 3.4 0 1 0 6.8 0a3.4 3.4 0 1 0 -6.8 0M1326.4 1171.2a3.4 3.4 0 1 0 6.8 0a3.4 3.4 0 1 0 -6.8 0M1256.7 1176.7a3.4 3.4 0 1 0 6.8 0a3.4 3.4 0 1 0 -6.8 0M1263.7 1178.6a3.4 3.4 0 1 0 6.8 0a3.4 3.4 0 1 0 -6.8 0M1272.1 1174.7a3.4 3.4 0 1 0 6.8 0a3.4 3.4 0 1 0 -6.8 0M1275.6 1177.1a3.4 3.4 0 1 0 6.8 0a3.4 3.4 0 1 0 -6.8 0M1290.8 1176.6a3.4 3.4 0 1 0 6.8 0a3.4 3.4 0 1 0 -6.8 0M1310.6 1179.8a3.4 3.4 0 1 0 6.8 0a3.4 3.4 0 1 0 -6.8 0M1275.6 1183.5a3.4 3.4 0 1 0 6.8 0a3.4 3.4 0 1 0 -6.8 0M1295.1 1185.3a3.4 3.4 0 1 0 6.8 0a3.4 3.4 0 1 0 -6.8 0M1283.1 1189.4a3.4 3.4 0 1 0 6.8 0a3.4 3.4 0 1 0 -6.8 0M1327.1 1183.9a3.4 3.4 0 1 0 6.8 0a3.4 3.4 0 1 0 -6.8 0M1329.1 1185.7a3.4 3.4 0 1 0 6.8 0a3.4 3.4 0 1 0 -6.8 0M1320.7 1190.8a3.4 3.4 0 1 0 6.8 0a3.4 3.4 0 1 0 -6.8 0M1313.3 1195.4a3.4 3.4 0 1 0 6.8 0a3.4 3.4 0 1 0 -6.8 0M1306.5 1197.5a3.4 3.4 0 1 0 6.8 0a3.4 3.4 0 1 0 -6.8 0M1283.1 1204.5a3.4 3.4 0 1 0 6.8 0a3.4 3.4 0 1 0 -6.8 0M1301.2 1217.8a3.4 3.4 0 1 0 6.8 0a3.4 3.4 0 1 0 -6.8 0M1292.9 1231.3a3.4 3.4 0 1 0 6.8 0a3.4 3.4 0 1 0 -6.8 0M1327.9 1159a3.4 3.4 0 1 0 6.8 0a3.4 3.4 0 1 0 -6.8 0M1323.7 1162.5a3.4 3.4 0 1 0 6.8 0a3.4 3.4 0 1 0 -6.8 0M1331.4 1164.5a3.4 3.4 0 1 0 6.8 0a3.4 3.4 0 1 0 -6.8 0M1337.3 1161.4a3.4 3.4 0 1 0 6.8 0a3.4 3.4 0 1 0 -6.8 0M1347.7 1162.8a3.4 3.4 0 1 0 6.8 0a3.4 3.4 0 1 0 -6.8 0M1350.9 1165.6a3.4 3.4 0 1 0 6.8 0a3.4 3.4 0 1 0 -6.8 0M1355.1 1167.7a3.4 3.4 0 1 0 6.8 0a3.4 3.4 0 1 0 -6.8 0M1344.6 1167.7a3.4 3.4 0 1 0 6.8 0a3.4 3.4 0 1 0 -6.8 0M1372.5 1165.2a3.4 3.4 0 1 0 6.8 0a3.4 3.4 0 1 0 -6.8 0M1371.4 1170.8a3.4 3.4 0 1 0 6.8 0a3.4 3.4 0 1 0 -6.8 0M1377.4 1175.3a3.4 3.4 0 1 0 6.8 0a3.4 3.4 0 1 0 -6.8 0M1387.8 1170.3a3.4 3.4 0 1 0 6.8 0a3.4 3.4 0 1 0 -6.8 0M1336.4 1176.3a3.4 3.4 0 1 0 6.8 0a3.4 3.4 0 1 0 -6.8 0M1353.7 1176.7a3.4 3.4 0 1 0 6.8 0a3.4 3.4 0 1 0 -6.8 0M1353.3 1183a3.4 3.4 0 1 0 6.8 0a3.4 3.4 0 1 0 -6.8 0M1357.1 1182.3a3.4 3.4 0 1 0 6.8 0a3.4 3.4 0 1 0 -6.8 0M1381.2 1182.3a3.4 3.4 0 1 0 6.8 0a3.4 3.4 0 1 0 -6.8 0M1334.5 1183.4a3.4 3.4 0 1 0 6.8 0a3.4 3.4 0 1 0 -6.8 0M1339 1194.9a3.4 3.4 0 1 0 6.8 0a3.4 3.4 0 1 0 -6.8 0M1340.4 1198.3a3.4 3.4 0 1 0 6.8 0a3.4 3.4 0 1 0 -6.8 0M1346 1196.3a3.4 3.4 0 1 0 6.8 0a3.4 3.4 0 1 0 -6.8 0M1343.2 1198.7a3.4 3.4 0 1 0 6.8 0a3.4 3.4 0 1 0 -6.8 0M1347 1204.6a3.4 3.4 0 1 0 6.8 0a3.4 3.4 0 1 0 -6.8 0M1367.1 1194.5a3.4 3.4 0 1 0 6.8 0a3.4 3.4 0 1 0 -6.8 0M1363.4 1202.9a3.4 3.4 0 1 0 6.8 0a3.4 3.4 0 1 0 -6.8 0M1378.6 1201.3a3.4 3.4 0 1 0 6.8 0a3.4 3.4 0 1 0 -6.8 0M1384 1209.5a3.4 3.4 0 1 0 6.8 0a3.4 3.4 0 1 0 -6.8 0M1425.6 1193.1a3.4 3.4 0 1 0 6.8 0a3.4 3.4 0 1 0 -6.8 0M1430 1200.1a3.4 3.4 0 1 0 6.8 0a3.4 3.4 0 1 0 -6.8 0M1351 1215.4a3.4 3.4 0 1 0 6.8 0a3.4 3.4 0 1 0 -6.8 0M1337.6 1230.8a3.4 3.4 0 1 0 6.8 0a3.4 3.4 0 1 0 -6.8 0M1360.8 1230.1a3.4 3.4 0 1 0 6.8 0a3.4 3.4 0 1 0 -6.8 0" fill="#000"/>
<text class="lab" x="1132.1" y="1013.4">d.3)</text>
<text class="tt" x="1331.7" y="1015.5" textLength="103.8" lengthAdjust="spacingAndGlyphs">Flight activity</text>
<text class="tt" x="1469.1" y="1200" textLength="177.8" lengthAdjust="spacingAndGlyphs">Time at feeding station</text>
</svg>
</body></html>
